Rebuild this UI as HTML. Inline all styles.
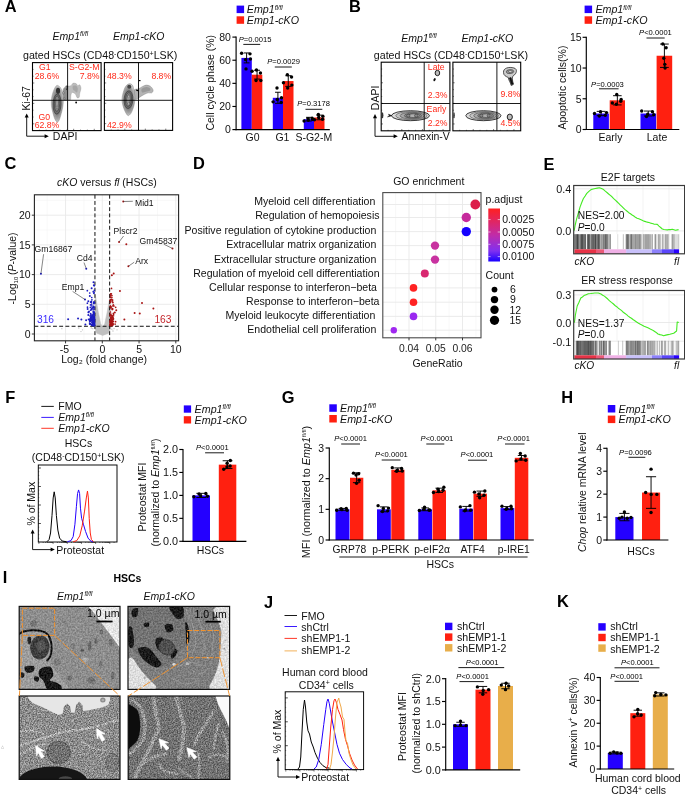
<!DOCTYPE html>
<html lang="en"><head><meta charset="utf-8"><title>Figure</title>
<style>
html,body{margin:0;padding:0;background:#fff;}
body{width:685px;height:796px;overflow:hidden;}
svg{display:block;font-family:"Liberation Sans",sans-serif;}
</style></head><body>
<svg width="685" height="796" viewBox="0 0 685 796">
<rect width="685" height="796" fill="#fff"/>
<text x="4.7" y="12" font-size="16.4" font-weight="bold" fill="#000">A</text>
<text x="348.9" y="12.1" font-size="16.4" font-weight="bold" fill="#000">B</text>
<text x="52.6" y="39.8" font-size="10.5" font-style="italic" fill="#111">Emp1<tspan dy="-3.78" font-size="6.3">fl/fl</tspan></text>
<text x="113" y="39.8" font-size="10.5" font-style="italic" fill="#111">Emp1-cKO</text>
<text x="23" y="59.3" font-size="10.65" fill="#111">gated HSCs (CD48<tspan dy="-3.6" font-size="7">-</tspan><tspan dy="3.6">CD150</tspan><tspan dy="-3.6" font-size="7">+</tspan><tspan dy="3.6">LSK)</tspan></text>
<rect x="32.5" y="62.6" width="68.6" height="68" fill="#fff" stroke="#000" stroke-width="1.1" />
<line x1="32.5" y1="69.4" x2="33.5" y2="69.4" stroke="#000" stroke-width="0.5" />
<line x1="39.36" y1="130.6" x2="39.36" y2="129.6" stroke="#000" stroke-width="0.5" />
<line x1="32.5" y1="76.2" x2="33.5" y2="76.2" stroke="#000" stroke-width="0.5" />
<line x1="46.22" y1="130.6" x2="46.22" y2="129.6" stroke="#000" stroke-width="0.5" />
<line x1="32.5" y1="83" x2="34.3" y2="83" stroke="#000" stroke-width="0.5" />
<line x1="53.08" y1="130.6" x2="53.08" y2="128.8" stroke="#000" stroke-width="0.5" />
<line x1="32.5" y1="89.8" x2="33.5" y2="89.8" stroke="#000" stroke-width="0.5" />
<line x1="59.94" y1="130.6" x2="59.94" y2="129.6" stroke="#000" stroke-width="0.5" />
<line x1="32.5" y1="96.6" x2="33.5" y2="96.6" stroke="#000" stroke-width="0.5" />
<line x1="66.8" y1="130.6" x2="66.8" y2="129.6" stroke="#000" stroke-width="0.5" />
<line x1="32.5" y1="103.4" x2="34.3" y2="103.4" stroke="#000" stroke-width="0.5" />
<line x1="73.66" y1="130.6" x2="73.66" y2="128.8" stroke="#000" stroke-width="0.5" />
<line x1="32.5" y1="110.2" x2="33.5" y2="110.2" stroke="#000" stroke-width="0.5" />
<line x1="80.52" y1="130.6" x2="80.52" y2="129.6" stroke="#000" stroke-width="0.5" />
<line x1="32.5" y1="117" x2="33.5" y2="117" stroke="#000" stroke-width="0.5" />
<line x1="87.38" y1="130.6" x2="87.38" y2="129.6" stroke="#000" stroke-width="0.5" />
<line x1="32.5" y1="123.8" x2="34.3" y2="123.8" stroke="#000" stroke-width="0.5" />
<line x1="94.24" y1="130.6" x2="94.24" y2="128.8" stroke="#000" stroke-width="0.5" />
<defs><filter id="sb" x="-20%" y="-20%" width="140%" height="140%"><feGaussianBlur stdDeviation="0.35"/></filter><filter id="sb2" x="-20%" y="-20%" width="140%" height="140%"><feGaussianBlur stdDeviation="0.6"/></filter><radialGradient id="rg1" cx="0.5" cy="0.5" r="0.5"><stop offset="0" stop-color="#4c4c4c"/><stop offset="0.55" stop-color="#7c7c7c"/><stop offset="0.85" stop-color="#a8a8a8"/><stop offset="1" stop-color="#cfcfcf"/></radialGradient></defs>
<g filter="url(#sb)">
<path d="M62.89 90.05 C63.29 87.84 64.9 87.1 65.7 86.43 C66.51 85.76 66.84 86.17 67.71 86.03 C68.58 85.9 70.05 86.1 70.92 85.63 C71.79 85.16 72.06 83.56 72.93 83.22 C73.8 82.89 75.34 83.22 76.14 83.62 C76.95 84.02 77.15 85.43 77.75 85.63 C78.35 85.83 79.22 84.36 79.76 84.83 C80.29 85.3 80.96 87.04 80.96 88.44 C80.96 89.85 80.05 91.79 79.76 93.26 C79.46 94.73 79.64 96.54 79.2 97.28 C78.76 98.01 77.75 98.21 77.11 97.68 C76.47 97.14 76.17 94.93 75.34 94.06 C74.51 93.19 72.86 92.26 72.13 92.46 C71.39 92.66 71.19 94.06 70.92 95.27 C70.66 96.47 71.06 98.88 70.52 99.69 C69.99 100.49 68.92 100.09 67.71 100.09 C66.51 100.09 64.1 101.36 63.29 99.69 C62.49 98.01 62.49 92.26 62.89 90.05Z" fill="#bdbdbd" stroke="#8a8a8a" stroke-width="0.3" />
<path d="M72.93 86.03 C73.47 85.43 75.34 85.23 76.14 85.63 C76.95 86.03 77.62 87.3 77.75 88.44 C77.88 89.58 77.48 92.06 76.95 92.46 C76.41 92.86 75.21 91.39 74.54 90.85 C73.87 90.32 73.2 90.05 72.93 89.24 C72.66 88.44 72.4 86.63 72.93 86.03Z" fill="#a6a6a6" stroke="none" stroke-width="0" />
<path d="M63.29 90.05 C63.56 88.04 65.03 87.5 65.7 87.24 C66.37 86.97 67.04 86.5 67.31 88.44 C67.58 90.38 67.84 97.08 67.31 98.88 C66.77 100.69 64.77 100.76 64.1 99.29 C63.43 97.81 63.03 92.06 63.29 90.05Z" fill="#8e8e8e" stroke="none" stroke-width="0" />
<path d="M57.27 85.39 C58.14 85.46 59.64 86.46 60.48 87.64 C61.33 88.82 61.86 90.58 62.33 92.46 C62.8 94.33 63.2 96.61 63.29 98.88 C63.39 101.16 63.23 103.7 62.89 106.11 C62.56 108.52 61.89 111.07 61.29 113.34 C60.68 115.62 59.95 118.32 59.28 119.77 C58.61 121.21 58.01 122.15 57.27 122.02 C56.53 121.88 55.6 120.54 54.86 118.96 C54.12 117.38 53.43 114.81 52.85 112.54 C52.28 110.26 51.61 107.72 51.41 105.31 C51.2 102.9 51.34 100.36 51.65 98.08 C51.95 95.8 52.65 93.46 53.25 91.65 C53.86 89.85 54.59 88.28 55.26 87.24 C55.93 86.19 56.4 85.32 57.27 85.39Z" fill="url(#rg1)" stroke="#555" stroke-width="0.35" />
</g>
<ellipse cx="58.07" cy="90.85" rx="2.09" ry="3.05" fill="#333"/>
<ellipse cx="57.03" cy="104.1" rx="4.02" ry="10.04" fill="#6c6c6c" stroke="#1c1c1c" stroke-width="0.45" transform="rotate(2 57.03 104.1)"/>
<ellipse cx="57.03" cy="103.7" rx="2.65" ry="7.63" fill="#858585" stroke="#1c1c1c" stroke-width="0.4" transform="rotate(2 57.03 103.7)"/>
<ellipse cx="57.03" cy="103.3" rx="1.45" ry="4.82" fill="#a0a0a0" stroke="#222" stroke-width="0.4" transform="rotate(2 57.03 103.3)"/>
<ellipse cx="57.03" cy="98.08" rx="0.72" ry="1.45" fill="#c0c0c0" stroke="#333" stroke-width="0.3"/>
<ellipse cx="57.03" cy="107.32" rx="0.72" ry="1.61" fill="#c0c0c0" stroke="#333" stroke-width="0.3"/>
<path d="M65.7 86.27 L67.71 86.03 L66.51 90.05" fill="none" stroke="#111" stroke-width="0.7" />
<circle cx="76.14" cy="102.5" r="0.9" fill="#000" />
<ellipse cx="63.53" cy="92.86" rx="0.64" ry="1.12" fill="#eee" stroke="#222" stroke-width="0.4"/>
<ellipse cx="64.1" cy="98.48" rx="0.64" ry="1.12" fill="#ddd" stroke="#222" stroke-width="0.4"/>
<text x="39.1" y="70.3" font-size="8.7" fill="#ff2a1a">G1</text>
<text x="34.7" y="78.5" font-size="8.7" fill="#ff2a1a">28.6%</text>
<text x="69" y="70.3" font-size="8.7" fill="#ff2a1a">S-G2-M</text>
<text x="99.6" y="78.5" font-size="8.7" text-anchor="end" fill="#ff2a1a">7.8%</text>
<text x="38.4" y="120" font-size="8.7" fill="#ff2a1a">G0</text>
<text x="34.7" y="128.2" font-size="8.7" fill="#ff2a1a">62.8%</text>
<rect x="104.4" y="62.6" width="68.2" height="67.8" fill="#fff" stroke="#000" stroke-width="1.1" />
<line x1="104.4" y1="69.38" x2="105.4" y2="69.38" stroke="#000" stroke-width="0.5" />
<line x1="111.22" y1="130.4" x2="111.22" y2="129.4" stroke="#000" stroke-width="0.5" />
<line x1="104.4" y1="76.16" x2="105.4" y2="76.16" stroke="#000" stroke-width="0.5" />
<line x1="118.04" y1="130.4" x2="118.04" y2="129.4" stroke="#000" stroke-width="0.5" />
<line x1="104.4" y1="82.94" x2="106.2" y2="82.94" stroke="#000" stroke-width="0.5" />
<line x1="124.86" y1="130.4" x2="124.86" y2="128.6" stroke="#000" stroke-width="0.5" />
<line x1="104.4" y1="89.72" x2="105.4" y2="89.72" stroke="#000" stroke-width="0.5" />
<line x1="131.68" y1="130.4" x2="131.68" y2="129.4" stroke="#000" stroke-width="0.5" />
<line x1="104.4" y1="96.5" x2="105.4" y2="96.5" stroke="#000" stroke-width="0.5" />
<line x1="138.5" y1="130.4" x2="138.5" y2="129.4" stroke="#000" stroke-width="0.5" />
<line x1="104.4" y1="103.28" x2="106.2" y2="103.28" stroke="#000" stroke-width="0.5" />
<line x1="145.32" y1="130.4" x2="145.32" y2="128.6" stroke="#000" stroke-width="0.5" />
<line x1="104.4" y1="110.06" x2="105.4" y2="110.06" stroke="#000" stroke-width="0.5" />
<line x1="152.14" y1="130.4" x2="152.14" y2="129.4" stroke="#000" stroke-width="0.5" />
<line x1="104.4" y1="116.84" x2="105.4" y2="116.84" stroke="#000" stroke-width="0.5" />
<line x1="158.96" y1="130.4" x2="158.96" y2="129.4" stroke="#000" stroke-width="0.5" />
<line x1="104.4" y1="123.62" x2="106.2" y2="123.62" stroke="#000" stroke-width="0.5" />
<line x1="165.78" y1="130.4" x2="165.78" y2="128.6" stroke="#000" stroke-width="0.5" />
<g filter="url(#sb)">
<path d="M134.09 90.05 C134.89 88.64 137.1 89.45 138.51 88.84 C139.91 88.24 141.18 87.06 142.52 86.43 C143.86 85.8 145.2 85.07 146.54 85.07 C147.88 85.07 149.46 85.6 150.55 86.43 C151.65 87.26 152.92 88.98 153.12 90.05 C153.33 91.12 152.59 92.39 151.76 92.86 C150.93 93.33 149.42 92.59 148.14 92.86 C146.87 93.13 145.47 93.8 144.13 94.47 C142.79 95.14 141.45 96.07 140.11 96.88 C138.77 97.68 137.17 99.22 136.1 99.29 C135.03 99.35 134.02 98.82 133.69 97.28 C133.35 95.74 133.29 91.45 134.09 90.05Z" fill="#b4b4b4" stroke="#777" stroke-width="0.35" />
<path d="M141.72 88.84 C142.46 87.93 145.13 87.06 146.54 87 C147.94 86.93 149.62 87.8 150.15 88.44 C150.69 89.08 150.49 90.32 149.75 90.85 C149.01 91.39 147.01 91.39 145.73 91.65 C144.46 91.92 142.79 92.93 142.12 92.46 C141.45 91.99 140.98 89.75 141.72 88.84Z" fill="#999" stroke="none" stroke-width="0" />
<path d="M129.27 83.78 C130.41 83.58 131.72 84.18 132.48 85.23 C133.24 86.27 133.45 88.17 133.85 90.05 C134.25 91.92 134.78 94.33 134.89 96.47 C135 98.62 134.8 100.89 134.49 102.9 C134.18 104.91 133.65 106.78 133.04 108.52 C132.44 110.26 131.71 112.16 130.88 113.34 C130.05 114.52 129 115.86 128.06 115.59 C127.13 115.32 126.12 113.45 125.25 111.73 C124.38 110.02 123.38 107.45 122.84 105.31 C122.31 103.17 121.97 101.03 122.04 98.88 C122.11 96.74 122.64 94.53 123.24 92.46 C123.85 90.38 124.65 87.88 125.65 86.43 C126.66 84.99 128.13 83.98 129.27 83.78Z" fill="url(#rg1)" stroke="#555" stroke-width="0.35" />
</g>
<ellipse cx="129.27" cy="86.84" rx="2.01" ry="2.01" fill="#444"/>
<ellipse cx="128.47" cy="99.69" rx="4.42" ry="8.84" fill="#6c6c6c" stroke="#1c1c1c" stroke-width="0.45" transform="rotate(4 128.47 99.69)"/>
<ellipse cx="128.47" cy="99.53" rx="3.05" ry="6.83" fill="#858585" stroke="#1c1c1c" stroke-width="0.4" transform="rotate(4 128.47 99.53)"/>
<ellipse cx="128.47" cy="99.29" rx="1.77" ry="4.66" fill="#a0a0a0" stroke="#222" stroke-width="0.4" transform="rotate(4 128.47 99.29)"/>
<ellipse cx="128.71" cy="96.63" rx="0.8" ry="1.29" fill="#c0c0c0" stroke="#333" stroke-width="0.3"/>
<ellipse cx="128.47" cy="103.7" rx="0.8" ry="1.45" fill="#c0c0c0" stroke="#333" stroke-width="0.3"/>
<path d="M138.91 80.57 l1.6 0" fill="none" stroke="#000" stroke-width="1.2" />
<path d="M136.1 90.05 L138.67 90.85" fill="none" stroke="#000" stroke-width="1.1" />
<text x="107" y="78.5" font-size="8.7" fill="#ff2a1a">48.3%</text>
<text x="171.2" y="78.5" font-size="8.7" text-anchor="end" fill="#ff2a1a">8.8%</text>
<text x="107" y="128.2" font-size="8.7" fill="#ff2a1a">42.9%</text>
<line x1="67.6" y1="62.6" x2="67.6" y2="130.6" stroke="#000" stroke-width="0.9" />
<line x1="32.5" y1="100.3" x2="101.1" y2="100.3" stroke="#000" stroke-width="0.9" />
<line x1="138.5" y1="62.6" x2="138.5" y2="130.4" stroke="#000" stroke-width="0.9" />
<line x1="104.4" y1="100.3" x2="172.6" y2="100.3" stroke="#000" stroke-width="0.9" />
<text x="29.6" y="110.6" font-size="10.5" fill="#111" transform="rotate(-90 29.6 110.6)">Ki-67</text>
<path d="M26.7 115.4 L26.7 136.2 L46.8 136.2" fill="none" stroke="#000" stroke-width="0.9" />
<path d="M26.7 113.4 l-2 4.2 l4 0 z" fill="#000" stroke="none" stroke-width="0" />
<path d="M48.8 136.2 l-4.2 -2 l0 4 z" fill="#000" stroke="none" stroke-width="0" />
<text x="52.8" y="140.4" font-size="10.5" fill="#111">DAPI</text>
<rect x="236.6" y="5.6" width="7.5" height="7.5" fill="#2400ff" />
<text x="246.8" y="13.4" font-size="10.7" font-style="italic" fill="#111">Emp1<tspan dy="-3.78" font-size="6.3">fl/fl</tspan></text>
<rect x="236.6" y="16.3" width="7.5" height="7.5" fill="#ff2010" />
<text x="246.8" y="24.1" font-size="10.7" font-style="italic" fill="#111">Emp1-cKO</text>
<text x="213.6" y="130.6" font-size="10.5" fill="#111" transform="rotate(-90 213.6 130.6)">Cell cycle phase (%)</text>
<rect x="241.4" y="57.91" width="10.4" height="71.69" fill="#2400ff" />
<rect x="251.8" y="74.68" width="10.5" height="54.92" fill="#ff2010" />
<rect x="272.8" y="97.8" width="10.2" height="31.8" fill="#2400ff" />
<rect x="283" y="81.04" width="10.5" height="48.56" fill="#ff2010" />
<rect x="303.8" y="119.19" width="10.2" height="10.41" fill="#2400ff" />
<rect x="314" y="117.46" width="10.5" height="12.14" fill="#ff2010" />
<line x1="246.6" y1="52.94" x2="246.6" y2="62.88" stroke="#000" stroke-width="0.95" />
<line x1="243.69" y1="52.94" x2="249.51" y2="52.94" stroke="#000" stroke-width="0.95" />
<line x1="243.69" y1="62.88" x2="249.51" y2="62.88" stroke="#000" stroke-width="0.95" />
<circle cx="241.6" cy="53.29" r="1.7" fill="#000" />
<circle cx="245.6" cy="59.65" r="1.7" fill="#000" />
<circle cx="246" cy="68.9" r="1.7" fill="#000" />
<circle cx="250" cy="53.87" r="1.7" fill="#000" />
<circle cx="250.4" cy="59.07" r="1.7" fill="#000" />
<line x1="257.05" y1="70.28" x2="257.05" y2="79.07" stroke="#000" stroke-width="0.95" />
<line x1="254.11" y1="70.28" x2="259.99" y2="70.28" stroke="#000" stroke-width="0.95" />
<line x1="254.11" y1="79.07" x2="259.99" y2="79.07" stroke="#000" stroke-width="0.95" />
<circle cx="252.05" cy="71.21" r="1.7" fill="#000" />
<circle cx="256.05" cy="80.46" r="1.7" fill="#000" />
<circle cx="256.45" cy="70.05" r="1.7" fill="#000" />
<circle cx="260.45" cy="72.94" r="1.7" fill="#000" />
<circle cx="260.85" cy="80.46" r="1.7" fill="#000" />
<line x1="277.9" y1="92.25" x2="277.9" y2="103.35" stroke="#000" stroke-width="0.95" />
<line x1="275.04" y1="92.25" x2="280.76" y2="92.25" stroke="#000" stroke-width="0.95" />
<line x1="275.04" y1="103.35" x2="280.76" y2="103.35" stroke="#000" stroke-width="0.95" />
<circle cx="273.1" cy="101.85" r="1.7" fill="#000" />
<circle cx="277" cy="87.97" r="1.7" fill="#000" />
<circle cx="277.3" cy="99.54" r="1.7" fill="#000" />
<circle cx="281.2" cy="102.43" r="1.7" fill="#000" />
<circle cx="281.5" cy="97.8" r="1.7" fill="#000" />
<line x1="288.25" y1="75.72" x2="288.25" y2="86.36" stroke="#000" stroke-width="0.95" />
<line x1="285.31" y1="75.72" x2="291.19" y2="75.72" stroke="#000" stroke-width="0.95" />
<line x1="285.31" y1="86.36" x2="291.19" y2="86.36" stroke="#000" stroke-width="0.95" />
<circle cx="283.45" cy="82.77" r="1.7" fill="#000" />
<circle cx="287.35" cy="74.68" r="1.7" fill="#000" />
<circle cx="287.65" cy="87.97" r="1.7" fill="#000" />
<circle cx="291.55" cy="76.99" r="1.7" fill="#000" />
<circle cx="291.85" cy="85.08" r="1.7" fill="#000" />
<line x1="308.9" y1="117.34" x2="308.9" y2="121.04" stroke="#000" stroke-width="0.95" />
<line x1="306.04" y1="117.34" x2="311.76" y2="117.34" stroke="#000" stroke-width="0.95" />
<line x1="306.04" y1="121.04" x2="311.76" y2="121.04" stroke="#000" stroke-width="0.95" />
<circle cx="304.1" cy="120.93" r="1.7" fill="#000" />
<circle cx="308" cy="118.62" r="1.7" fill="#000" />
<circle cx="308.3" cy="120.35" r="1.7" fill="#000" />
<circle cx="312.2" cy="118.27" r="1.7" fill="#000" />
<circle cx="312.5" cy="119.42" r="1.7" fill="#000" />
<line x1="319.25" y1="115.15" x2="319.25" y2="119.77" stroke="#000" stroke-width="0.95" />
<line x1="316.31" y1="115.15" x2="322.19" y2="115.15" stroke="#000" stroke-width="0.95" />
<line x1="316.31" y1="119.77" x2="322.19" y2="119.77" stroke="#000" stroke-width="0.95" />
<circle cx="314.45" cy="119.77" r="1.7" fill="#000" />
<circle cx="318.35" cy="114.57" r="1.7" fill="#000" />
<circle cx="318.65" cy="117.46" r="1.7" fill="#000" />
<circle cx="322.55" cy="119.19" r="1.7" fill="#000" />
<circle cx="322.85" cy="116.3" r="1.7" fill="#000" />
<line x1="236.1" y1="36.52" x2="236.1" y2="130.17" stroke="#000" stroke-width="1.15" />
<line x1="235.53" y1="129.6" x2="329.8" y2="129.6" stroke="#000" stroke-width="1.15" />
<line x1="232.4" y1="129.6" x2="236.1" y2="129.6" stroke="#000" stroke-width="1.15" />
<text x="230.9" y="133.38" font-size="10.5" text-anchor="end" fill="#111">0</text>
<line x1="232.4" y1="106.47" x2="236.1" y2="106.47" stroke="#000" stroke-width="1.15" />
<text x="230.9" y="110.25" font-size="10.5" text-anchor="end" fill="#111">20</text>
<line x1="232.4" y1="83.35" x2="236.1" y2="83.35" stroke="#000" stroke-width="1.15" />
<text x="230.9" y="87.13" font-size="10.5" text-anchor="end" fill="#111">40</text>
<line x1="232.4" y1="60.22" x2="236.1" y2="60.22" stroke="#000" stroke-width="1.15" />
<text x="230.9" y="64" font-size="10.5" text-anchor="end" fill="#111">60</text>
<line x1="232.4" y1="37.1" x2="236.1" y2="37.1" stroke="#000" stroke-width="1.15" />
<text x="230.9" y="40.88" font-size="10.5" text-anchor="end" fill="#111">80</text>
<text x="252.6" y="140.6" font-size="10.5" text-anchor="middle" fill="#111">G0</text>
<text x="282.4" y="140.6" font-size="10.5" text-anchor="middle" fill="#111">G1</text>
<text x="313.8" y="140.6" font-size="10.5" text-anchor="middle" fill="#111">S-G2-M</text>
<text x="238.7" y="42" font-size="7.6" fill="#000"><tspan font-style="italic">P</tspan>=0.0015</text>
<line x1="243.3" y1="44.4" x2="260.2" y2="44.4" stroke="#000" stroke-width="0.9" />
<text x="267.2" y="63.8" font-size="7.6" fill="#000"><tspan font-style="italic">P</tspan>=0.0029</text>
<line x1="274.8" y1="67" x2="291.8" y2="67" stroke="#000" stroke-width="0.9" />
<text x="297.2" y="106.2" font-size="7.6" fill="#000"><tspan font-style="italic">P</tspan>=0.3178</text>
<line x1="305.5" y1="109.3" x2="322.3" y2="109.3" stroke="#000" stroke-width="0.9" />
<text x="401.2" y="41.9" font-size="10.5" font-style="italic" fill="#111">Emp1<tspan dy="-3.78" font-size="6.3">fl/fl</tspan></text>
<text x="461.5" y="41.9" font-size="10.6" font-style="italic" fill="#111">Emp1-cKO</text>
<text x="373.8" y="59.2" font-size="10.65" fill="#111">gated HSCs (CD48<tspan dy="-3.6" font-size="7">-</tspan><tspan dy="3.6">CD150</tspan><tspan dy="-3.6" font-size="7">+</tspan><tspan dy="3.6">LSK)</tspan></text>
<rect x="381.2" y="62.2" width="68.7" height="68.6" fill="#fff" stroke="#000" stroke-width="1.1" />
<line x1="381.2" y1="69.06" x2="382.2" y2="69.06" stroke="#000" stroke-width="0.5" />
<line x1="388.07" y1="130.8" x2="388.07" y2="129.8" stroke="#000" stroke-width="0.5" />
<line x1="381.2" y1="75.92" x2="382.2" y2="75.92" stroke="#000" stroke-width="0.5" />
<line x1="394.94" y1="130.8" x2="394.94" y2="129.8" stroke="#000" stroke-width="0.5" />
<line x1="381.2" y1="82.78" x2="383" y2="82.78" stroke="#000" stroke-width="0.5" />
<line x1="401.81" y1="130.8" x2="401.81" y2="129" stroke="#000" stroke-width="0.5" />
<line x1="381.2" y1="89.64" x2="382.2" y2="89.64" stroke="#000" stroke-width="0.5" />
<line x1="408.68" y1="130.8" x2="408.68" y2="129.8" stroke="#000" stroke-width="0.5" />
<line x1="381.2" y1="96.5" x2="382.2" y2="96.5" stroke="#000" stroke-width="0.5" />
<line x1="415.55" y1="130.8" x2="415.55" y2="129.8" stroke="#000" stroke-width="0.5" />
<line x1="381.2" y1="103.36" x2="383" y2="103.36" stroke="#000" stroke-width="0.5" />
<line x1="422.42" y1="130.8" x2="422.42" y2="129" stroke="#000" stroke-width="0.5" />
<line x1="381.2" y1="110.22" x2="382.2" y2="110.22" stroke="#000" stroke-width="0.5" />
<line x1="429.29" y1="130.8" x2="429.29" y2="129.8" stroke="#000" stroke-width="0.5" />
<line x1="381.2" y1="117.08" x2="382.2" y2="117.08" stroke="#000" stroke-width="0.5" />
<line x1="436.16" y1="130.8" x2="436.16" y2="129.8" stroke="#000" stroke-width="0.5" />
<line x1="381.2" y1="123.94" x2="383" y2="123.94" stroke="#000" stroke-width="0.5" />
<line x1="443.03" y1="130.8" x2="443.03" y2="129" stroke="#000" stroke-width="0.5" />
<rect x="452.9" y="62.2" width="67.8" height="68.6" fill="#fff" stroke="#000" stroke-width="1.1" />
<line x1="452.9" y1="69.06" x2="453.9" y2="69.06" stroke="#000" stroke-width="0.5" />
<line x1="459.68" y1="130.8" x2="459.68" y2="129.8" stroke="#000" stroke-width="0.5" />
<line x1="452.9" y1="75.92" x2="453.9" y2="75.92" stroke="#000" stroke-width="0.5" />
<line x1="466.46" y1="130.8" x2="466.46" y2="129.8" stroke="#000" stroke-width="0.5" />
<line x1="452.9" y1="82.78" x2="454.7" y2="82.78" stroke="#000" stroke-width="0.5" />
<line x1="473.24" y1="130.8" x2="473.24" y2="129" stroke="#000" stroke-width="0.5" />
<line x1="452.9" y1="89.64" x2="453.9" y2="89.64" stroke="#000" stroke-width="0.5" />
<line x1="480.02" y1="130.8" x2="480.02" y2="129.8" stroke="#000" stroke-width="0.5" />
<line x1="452.9" y1="96.5" x2="453.9" y2="96.5" stroke="#000" stroke-width="0.5" />
<line x1="486.8" y1="130.8" x2="486.8" y2="129.8" stroke="#000" stroke-width="0.5" />
<line x1="452.9" y1="103.36" x2="454.7" y2="103.36" stroke="#000" stroke-width="0.5" />
<line x1="493.58" y1="130.8" x2="493.58" y2="129" stroke="#000" stroke-width="0.5" />
<line x1="452.9" y1="110.22" x2="453.9" y2="110.22" stroke="#000" stroke-width="0.5" />
<line x1="500.36" y1="130.8" x2="500.36" y2="129.8" stroke="#000" stroke-width="0.5" />
<line x1="452.9" y1="117.08" x2="453.9" y2="117.08" stroke="#000" stroke-width="0.5" />
<line x1="507.14" y1="130.8" x2="507.14" y2="129.8" stroke="#000" stroke-width="0.5" />
<line x1="452.9" y1="123.94" x2="454.7" y2="123.94" stroke="#000" stroke-width="0.5" />
<line x1="513.92" y1="130.8" x2="513.92" y2="129" stroke="#000" stroke-width="0.5" />
<ellipse cx="410.5" cy="115.7" rx="19" ry="5" fill="rgb(218,218,218)" stroke="#111" stroke-width="0.8"/>
<ellipse cx="411.36" cy="115.7" rx="15.58" ry="4.19" fill="rgb(196,196,196)" stroke="#111" stroke-width="0.4"/>
<ellipse cx="412.21" cy="115.7" rx="12.16" ry="3.38" fill="rgb(168,168,168)" stroke="#111" stroke-width="0.4"/>
<ellipse cx="413.06" cy="115.7" rx="8.74" ry="2.57" fill="rgb(140,140,140)" stroke="#111" stroke-width="0.4"/>
<ellipse cx="413.82" cy="115.7" rx="5.7" ry="1.85" fill="rgb(175,175,175)" stroke="#111" stroke-width="0.4"/>
<ellipse cx="408.22" cy="115.7" rx="1.71" ry="1.5" fill="#888" stroke="#111" stroke-width="0.4"/>
<ellipse cx="416.2" cy="115.7" rx="1.71" ry="1.5" fill="#888" stroke="#111" stroke-width="0.4"/>
<path d="M392 115.7 l-3.5 -1.5 l0.8 1.5 l-1.8 1.2 z" fill="#111" stroke="#111" stroke-width="0.5" />
<ellipse cx="382.4" cy="115.3" rx="1" ry="3" fill="#333"/>
<ellipse cx="437.4" cy="73" rx="2.3" ry="2.7" fill="#bbb" stroke="#111" stroke-width="0.9"/>
<ellipse cx="434.6" cy="79.7" rx="1" ry="1.7" fill="#111" transform="rotate(25 434.6 79.7)"/>
<ellipse cx="483.4" cy="115.7" rx="17.6" ry="5" fill="rgb(218,218,218)" stroke="#111" stroke-width="0.8"/>
<ellipse cx="484.19" cy="115.7" rx="14.43" ry="4.19" fill="rgb(196,196,196)" stroke="#111" stroke-width="0.4"/>
<ellipse cx="484.98" cy="115.7" rx="11.26" ry="3.38" fill="rgb(168,168,168)" stroke="#111" stroke-width="0.4"/>
<ellipse cx="485.78" cy="115.7" rx="8.1" ry="2.57" fill="rgb(140,140,140)" stroke="#111" stroke-width="0.4"/>
<ellipse cx="486.48" cy="115.7" rx="5.28" ry="1.85" fill="rgb(175,175,175)" stroke="#111" stroke-width="0.4"/>
<ellipse cx="481.29" cy="115.7" rx="1.58" ry="1.5" fill="#888" stroke="#111" stroke-width="0.4"/>
<ellipse cx="488.68" cy="115.7" rx="1.58" ry="1.5" fill="#888" stroke="#111" stroke-width="0.4"/>
<ellipse cx="454" cy="115.3" rx="0.9" ry="3" fill="#444"/>
<ellipse cx="509.8" cy="117" rx="2.6" ry="2.9" fill="#bbb" stroke="#111" stroke-width="0.9"/>
<path d="M503.5 72.5 C503 68 509 66.5 514 68 C518 69 516.5 74 513.5 75.5 C511.5 77 512.5 80 513.3 84.5 L511.2 85.5 C510.5 82 508.5 80.5 508.3 77.5 C506 76.5 503.5 75.5 503.5 72.5z" fill="#ccc" stroke="#111" stroke-width="0.7" />
<ellipse cx="510" cy="71.6" rx="3.8" ry="2" fill="#999" stroke="#111" stroke-width="0.45" transform="rotate(-5 510 71.6)"/>
<ellipse cx="510.2" cy="71.6" rx="1.8" ry="1" fill="#ddd" stroke="#111" stroke-width="0.4" transform="rotate(-5 510.2 71.6)"/>
<path d="M509.3 78 L511.4 84.6 L513.2 84 L511 77.5z" fill="#111" stroke="#111" stroke-width="0.6" />
<line x1="424.2" y1="62.2" x2="424.2" y2="130.8" stroke="#000" stroke-width="0.9" />
<line x1="381.2" y1="103.5" x2="449.9" y2="103.5" stroke="#000" stroke-width="0.9" />
<line x1="496.9" y1="62.2" x2="496.9" y2="130.8" stroke="#000" stroke-width="0.9" />
<line x1="452.9" y1="103.5" x2="520.7" y2="103.5" stroke="#000" stroke-width="0.9" />
<text x="427.8" y="69.6" font-size="8.7" fill="#ff2a1a">Late</text>
<text x="427.8" y="97.6" font-size="8.7" fill="#ff2a1a">2.3%</text>
<text x="426.6" y="111.9" font-size="8.7" fill="#ff2a1a">Early</text>
<text x="427.8" y="126.4" font-size="8.7" fill="#ff2a1a">2.2%</text>
<text x="500.4" y="96.8" font-size="8.7" fill="#ff2a1a">9.8%</text>
<text x="500.4" y="126.4" font-size="8.7" fill="#ff2a1a">4.5%</text>
<text x="378.8" y="110.2" font-size="10.5" fill="#111" transform="rotate(-90 378.8 110.2)">DAPI</text>
<path d="M375 116 L375 136.3 L395.8 136.3" fill="none" stroke="#000" stroke-width="0.9" />
<path d="M375 114 l-2 4.2 l4 0 z" fill="#000" stroke="none" stroke-width="0" />
<path d="M397.8 136.3 l-4.2 -2 l0 4 z" fill="#000" stroke="none" stroke-width="0" />
<text x="401.4" y="140.2" font-size="10.5" fill="#111">Annexin-V</text>
<rect x="584.6" y="5.6" width="7.5" height="7.5" fill="#2400ff" />
<text x="595.4" y="13.4" font-size="10.7" font-style="italic" fill="#111">Emp1<tspan dy="-3.78" font-size="6.3">fl/fl</tspan></text>
<rect x="584.6" y="16.3" width="7.5" height="7.5" fill="#ff2010" />
<text x="595.4" y="24.1" font-size="10.7" font-style="italic" fill="#111">Emp1-cKO</text>
<text x="566.3" y="129.6" font-size="10.5" fill="#111" transform="rotate(-90 566.3 129.6)">Apoptotic cells(%)</text>
<rect x="593.3" y="113.52" width="15.6" height="15.98" fill="#2400ff" />
<rect x="609.7" y="100.3" width="15.3" height="29.2" fill="#ff2010" />
<rect x="640.5" y="113.52" width="15.6" height="15.98" fill="#2400ff" />
<rect x="656.6" y="55.74" width="15.6" height="73.76" fill="#ff2010" />
<line x1="601.1" y1="111.37" x2="601.1" y2="115.67" stroke="#000" stroke-width="0.95" />
<line x1="596.73" y1="111.37" x2="605.47" y2="111.37" stroke="#000" stroke-width="0.95" />
<line x1="596.73" y1="115.67" x2="605.47" y2="115.67" stroke="#000" stroke-width="0.95" />
<circle cx="594.5" cy="113.52" r="1.7" fill="#000" />
<circle cx="599.3" cy="115.98" r="1.7" fill="#000" />
<circle cx="600.5" cy="111.67" r="1.7" fill="#000" />
<circle cx="605.3" cy="115.36" r="1.7" fill="#000" />
<circle cx="606.5" cy="112.6" r="1.7" fill="#000" />
<line x1="617.35" y1="95.69" x2="617.35" y2="104.91" stroke="#000" stroke-width="0.95" />
<line x1="613.07" y1="95.69" x2="621.63" y2="95.69" stroke="#000" stroke-width="0.95" />
<line x1="613.07" y1="104.91" x2="621.63" y2="104.91" stroke="#000" stroke-width="0.95" />
<circle cx="612.35" cy="103.07" r="1.7" fill="#000" />
<circle cx="616.35" cy="104.3" r="1.7" fill="#000" />
<circle cx="616.75" cy="94.46" r="1.7" fill="#000" />
<circle cx="620.75" cy="101.23" r="1.7" fill="#000" />
<circle cx="621.15" cy="99.38" r="1.7" fill="#000" />
<line x1="648.3" y1="111.06" x2="648.3" y2="115.98" stroke="#000" stroke-width="0.95" />
<line x1="643.93" y1="111.06" x2="652.67" y2="111.06" stroke="#000" stroke-width="0.95" />
<line x1="643.93" y1="115.98" x2="652.67" y2="115.98" stroke="#000" stroke-width="0.95" />
<circle cx="641.7" cy="111.06" r="1.7" fill="#000" />
<circle cx="646.5" cy="116.59" r="1.7" fill="#000" />
<circle cx="647.7" cy="114.13" r="1.7" fill="#000" />
<circle cx="652.5" cy="111.67" r="1.7" fill="#000" />
<circle cx="653.7" cy="114.75" r="1.7" fill="#000" />
<line x1="664.4" y1="44.06" x2="664.4" y2="67.42" stroke="#000" stroke-width="0.95" />
<line x1="660.03" y1="44.06" x2="668.77" y2="44.06" stroke="#000" stroke-width="0.95" />
<line x1="660.03" y1="67.42" x2="668.77" y2="67.42" stroke="#000" stroke-width="0.95" />
<circle cx="662.8" cy="44.06" r="1.7" fill="#000" />
<circle cx="665.1" cy="68.03" r="1.7" fill="#000" />
<circle cx="663.8" cy="58.2" r="1.7" fill="#000" />
<circle cx="666.1" cy="47.75" r="1.7" fill="#000" />
<circle cx="664.8" cy="64.35" r="1.7" fill="#000" />
<line x1="586.3" y1="36.72" x2="586.3" y2="130.07" stroke="#000" stroke-width="1.15" />
<line x1="585.72" y1="129.5" x2="679.3" y2="129.5" stroke="#000" stroke-width="1.15" />
<line x1="582.6" y1="129.5" x2="586.3" y2="129.5" stroke="#000" stroke-width="1.15" />
<text x="581.6" y="133.28" font-size="10.5" text-anchor="end" fill="#111">0</text>
<line x1="582.6" y1="98.77" x2="586.3" y2="98.77" stroke="#000" stroke-width="1.15" />
<text x="581.6" y="102.55" font-size="10.5" text-anchor="end" fill="#111">5</text>
<line x1="582.6" y1="68.03" x2="586.3" y2="68.03" stroke="#000" stroke-width="1.15" />
<text x="581.6" y="71.81" font-size="10.5" text-anchor="end" fill="#111">10</text>
<line x1="582.6" y1="37.3" x2="586.3" y2="37.3" stroke="#000" stroke-width="1.15" />
<text x="581.6" y="41.08" font-size="10.5" text-anchor="end" fill="#111">15</text>
<text x="610.5" y="140.5" font-size="10.5" text-anchor="middle" fill="#111">Early</text>
<text x="657" y="140.5" font-size="10.5" text-anchor="middle" fill="#111">Late</text>
<text x="591.1" y="86.7" font-size="7.6" fill="#000"><tspan font-style="italic">P</tspan>=0.0003</text>
<line x1="599" y1="88.8" x2="618.6" y2="88.8" stroke="#000" stroke-width="0.9" />
<text x="639.1" y="35.4" font-size="7.6" fill="#000"><tspan font-style="italic">P</tspan>&lt;0.0001</text>
<line x1="646.5" y1="38" x2="664.7" y2="38" stroke="#000" stroke-width="0.9" />
<text x="4.5" y="169.4" font-size="16.4" font-weight="bold" fill="#000">C</text>
<text x="192.9" y="169.4" font-size="16.4" font-weight="bold" fill="#000">D</text>
<text x="543.5" y="169.8" font-size="16.4" font-weight="bold" fill="#000">E</text>
<rect x="34.4" y="194.8" width="144.2" height="146" fill="#fff" />
<line x1="47.17" y1="194.8" x2="47.17" y2="340.8" stroke="#f1f1f1" stroke-width="0.5" />
<line x1="83.92" y1="194.8" x2="83.92" y2="340.8" stroke="#f1f1f1" stroke-width="0.5" />
<line x1="120.67" y1="194.8" x2="120.67" y2="340.8" stroke="#f1f1f1" stroke-width="0.5" />
<line x1="157.43" y1="194.8" x2="157.43" y2="340.8" stroke="#f1f1f1" stroke-width="0.5" />
<line x1="34.4" y1="319.15" x2="178.6" y2="319.15" stroke="#f1f1f1" stroke-width="0.5" />
<line x1="34.4" y1="289.45" x2="178.6" y2="289.45" stroke="#f1f1f1" stroke-width="0.5" />
<line x1="34.4" y1="259.75" x2="178.6" y2="259.75" stroke="#f1f1f1" stroke-width="0.5" />
<line x1="34.4" y1="230.05" x2="178.6" y2="230.05" stroke="#f1f1f1" stroke-width="0.5" />
<line x1="34.4" y1="200.35" x2="178.6" y2="200.35" stroke="#f1f1f1" stroke-width="0.5" />
<line x1="65.55" y1="194.8" x2="65.55" y2="340.8" stroke="#e9e9e9" stroke-width="0.9" />
<line x1="102.3" y1="194.8" x2="102.3" y2="340.8" stroke="#e9e9e9" stroke-width="0.9" />
<line x1="139.05" y1="194.8" x2="139.05" y2="340.8" stroke="#e9e9e9" stroke-width="0.9" />
<line x1="175.8" y1="194.8" x2="175.8" y2="340.8" stroke="#e9e9e9" stroke-width="0.9" />
<line x1="34.4" y1="334" x2="178.6" y2="334" stroke="#e9e9e9" stroke-width="0.9" />
<line x1="34.4" y1="304.3" x2="178.6" y2="304.3" stroke="#e9e9e9" stroke-width="0.9" />
<line x1="34.4" y1="274.6" x2="178.6" y2="274.6" stroke="#e9e9e9" stroke-width="0.9" />
<line x1="34.4" y1="244.9" x2="178.6" y2="244.9" stroke="#e9e9e9" stroke-width="0.9" />
<line x1="34.4" y1="215.2" x2="178.6" y2="215.2" stroke="#e9e9e9" stroke-width="0.9" />
<path d="M95.24 295.04 L94.83 310.87 L94.32 327.22 L96.77 333.15 L102.7 335.4 L108.63 333.15 L111.08 327.22 L110.47 310.87 L109.96 296.77 L109.24 300.66 L106.99 312.92 L104.74 323.65 L102.7 327.02 L100.66 323.65 L98.41 312.92 L96.16 299.63Z" fill="#bfbfbf" stroke="#bfbfbf" stroke-width="0.5" stroke-linejoin="round"/>
<circle cx="61.88" cy="328.65" r="0.7" fill="#c4c4c4" />
<circle cx="80.98" cy="331.62" r="0.7" fill="#c4c4c4" />
<circle cx="82.45" cy="329.84" r="0.7" fill="#c4c4c4" />
<circle cx="92.75" cy="328.65" r="0.7" fill="#c4c4c4" />
<circle cx="111.85" cy="329.25" r="0.7" fill="#c4c4c4" />
<circle cx="114.06" cy="328.65" r="0.7" fill="#c4c4c4" />
<circle cx="117" cy="329.84" r="0.7" fill="#c4c4c4" />
<circle cx="91.28" cy="328.06" r="0.7" fill="#c4c4c4" />
<circle cx="112.96" cy="331.03" r="0.7" fill="#c4c4c4" />
<circle cx="78.78" cy="328.06" r="0.7" fill="#c4c4c4" />
<line x1="94.95" y1="194.8" x2="94.95" y2="340.8" stroke="#111" stroke-width="1" stroke-dasharray="3.9 2.3" />
<line x1="109.65" y1="194.8" x2="109.65" y2="340.8" stroke="#111" stroke-width="1" stroke-dasharray="3.9 2.3" />
<line x1="34.4" y1="326.28" x2="178.6" y2="326.28" stroke="#111" stroke-width="1" stroke-dasharray="3.9 2.3" />
<circle cx="93.91" cy="313.81" r="0.85" fill="#1c1cc0" />
<circle cx="93.23" cy="324.84" r="0.85" fill="#1c1cc0" />
<circle cx="92.12" cy="325.01" r="0.85" fill="#1c1cc0" />
<circle cx="94.02" cy="317.69" r="0.85" fill="#1c1cc0" />
<circle cx="91.84" cy="324.87" r="0.85" fill="#1c1cc0" />
<circle cx="93.92" cy="324.61" r="0.85" fill="#1c1cc0" />
<circle cx="90.17" cy="324.19" r="0.85" fill="#1c1cc0" />
<circle cx="92.32" cy="322.83" r="0.85" fill="#1c1cc0" />
<circle cx="90.11" cy="315.97" r="0.85" fill="#1c1cc0" />
<circle cx="89.97" cy="319.98" r="0.85" fill="#1c1cc0" />
<circle cx="93.77" cy="303.62" r="0.85" fill="#1c1cc0" />
<circle cx="94.46" cy="321.82" r="0.85" fill="#1c1cc0" />
<circle cx="93.77" cy="321.52" r="0.85" fill="#1c1cc0" />
<circle cx="93.54" cy="306.57" r="0.85" fill="#1c1cc0" />
<circle cx="93.11" cy="314.19" r="0.85" fill="#1c1cc0" />
<circle cx="91.42" cy="320.43" r="0.85" fill="#1c1cc0" />
<circle cx="93.67" cy="324.99" r="0.85" fill="#1c1cc0" />
<circle cx="94.3" cy="323.08" r="0.85" fill="#1c1cc0" />
<circle cx="93.4" cy="321.43" r="0.85" fill="#1c1cc0" />
<circle cx="92.05" cy="315.74" r="0.85" fill="#1c1cc0" />
<circle cx="92.44" cy="307.83" r="0.85" fill="#1c1cc0" />
<circle cx="93.93" cy="312.13" r="0.85" fill="#1c1cc0" />
<circle cx="94.45" cy="317.28" r="0.85" fill="#1c1cc0" />
<circle cx="91.13" cy="302.2" r="0.85" fill="#1c1cc0" />
<circle cx="94.3" cy="322.88" r="0.85" fill="#1c1cc0" />
<circle cx="92.42" cy="319.57" r="0.85" fill="#1c1cc0" />
<circle cx="94.51" cy="318.11" r="0.85" fill="#1c1cc0" />
<circle cx="93.06" cy="325.23" r="0.85" fill="#1c1cc0" />
<circle cx="92.37" cy="316.08" r="0.85" fill="#1c1cc0" />
<circle cx="90.66" cy="302.17" r="0.85" fill="#1c1cc0" />
<circle cx="92.99" cy="315.5" r="0.85" fill="#1c1cc0" />
<circle cx="90.83" cy="315.9" r="0.85" fill="#1c1cc0" />
<circle cx="89.71" cy="293.02" r="0.85" fill="#1c1cc0" />
<circle cx="93.21" cy="318.43" r="0.85" fill="#1c1cc0" />
<circle cx="94.1" cy="312.04" r="0.85" fill="#1c1cc0" />
<circle cx="93.78" cy="313.93" r="0.85" fill="#1c1cc0" />
<circle cx="89.67" cy="321.9" r="0.85" fill="#1c1cc0" />
<circle cx="94.37" cy="320.18" r="0.85" fill="#1c1cc0" />
<circle cx="94.31" cy="318.69" r="0.85" fill="#1c1cc0" />
<circle cx="94.09" cy="323.61" r="0.85" fill="#1c1cc0" />
<circle cx="93.9" cy="309.18" r="0.85" fill="#1c1cc0" />
<circle cx="93.96" cy="324.12" r="0.85" fill="#1c1cc0" />
<circle cx="94.54" cy="302.53" r="0.85" fill="#1c1cc0" />
<circle cx="91.95" cy="324.74" r="0.85" fill="#1c1cc0" />
<circle cx="91.41" cy="301.43" r="0.85" fill="#1c1cc0" />
<circle cx="93.53" cy="306.38" r="0.85" fill="#1c1cc0" />
<circle cx="93.18" cy="319.63" r="0.85" fill="#1c1cc0" />
<circle cx="92.97" cy="320.67" r="0.85" fill="#1c1cc0" />
<circle cx="89.61" cy="323.84" r="0.85" fill="#1c1cc0" />
<circle cx="90.16" cy="323.5" r="0.85" fill="#1c1cc0" />
<circle cx="94.36" cy="318.2" r="0.85" fill="#1c1cc0" />
<circle cx="92.67" cy="315.65" r="0.85" fill="#1c1cc0" />
<circle cx="94.56" cy="319.56" r="0.85" fill="#1c1cc0" />
<circle cx="94.34" cy="320.48" r="0.85" fill="#1c1cc0" />
<circle cx="88.6" cy="312.45" r="0.85" fill="#1c1cc0" />
<circle cx="91.93" cy="317.51" r="0.85" fill="#1c1cc0" />
<circle cx="91.65" cy="325.06" r="0.85" fill="#1c1cc0" />
<circle cx="91.91" cy="299.75" r="0.85" fill="#1c1cc0" />
<circle cx="93.57" cy="307.64" r="0.85" fill="#1c1cc0" />
<circle cx="89.29" cy="320.06" r="0.85" fill="#1c1cc0" />
<circle cx="93.59" cy="314.33" r="0.85" fill="#1c1cc0" />
<circle cx="93.85" cy="324.96" r="0.85" fill="#1c1cc0" />
<circle cx="92.93" cy="323.69" r="0.85" fill="#1c1cc0" />
<circle cx="93.84" cy="320.99" r="0.85" fill="#1c1cc0" />
<circle cx="94.53" cy="323.83" r="0.85" fill="#1c1cc0" />
<circle cx="94.56" cy="324.48" r="0.85" fill="#1c1cc0" />
<circle cx="94.19" cy="302.28" r="0.85" fill="#1c1cc0" />
<circle cx="94.13" cy="314.94" r="0.85" fill="#1c1cc0" />
<circle cx="93.38" cy="320.87" r="0.85" fill="#1c1cc0" />
<circle cx="92.96" cy="320.57" r="0.85" fill="#1c1cc0" />
<circle cx="90.9" cy="314.61" r="0.85" fill="#1c1cc0" />
<circle cx="90.99" cy="318.22" r="0.85" fill="#1c1cc0" />
<circle cx="93.53" cy="320.95" r="0.85" fill="#1c1cc0" />
<circle cx="93.95" cy="322.21" r="0.85" fill="#1c1cc0" />
<circle cx="93.84" cy="325.42" r="0.85" fill="#1c1cc0" />
<circle cx="93.2" cy="291.65" r="0.85" fill="#1c1cc0" />
<circle cx="93.12" cy="316.84" r="0.85" fill="#1c1cc0" />
<circle cx="94.32" cy="325.37" r="0.85" fill="#1c1cc0" />
<circle cx="87.36" cy="303.22" r="0.85" fill="#1c1cc0" />
<circle cx="93.29" cy="312.24" r="0.85" fill="#1c1cc0" />
<circle cx="94.41" cy="323.62" r="0.85" fill="#1c1cc0" />
<circle cx="92.06" cy="309" r="0.85" fill="#1c1cc0" />
<circle cx="90.08" cy="321.17" r="0.85" fill="#1c1cc0" />
<circle cx="93.65" cy="322.84" r="0.85" fill="#1c1cc0" />
<circle cx="91.69" cy="304.07" r="0.85" fill="#1c1cc0" />
<circle cx="87.48" cy="307.17" r="0.85" fill="#1c1cc0" />
<circle cx="92.77" cy="322.78" r="0.85" fill="#1c1cc0" />
<circle cx="90.63" cy="317.46" r="0.85" fill="#1c1cc0" />
<circle cx="94.19" cy="325.36" r="0.85" fill="#1c1cc0" />
<circle cx="94.08" cy="321.99" r="0.85" fill="#1c1cc0" />
<circle cx="94.35" cy="290.3" r="0.85" fill="#1c1cc0" />
<circle cx="90.53" cy="318.99" r="0.85" fill="#1c1cc0" />
<circle cx="87.32" cy="290.68" r="0.85" fill="#1c1cc0" />
<circle cx="91.55" cy="320.57" r="0.85" fill="#1c1cc0" />
<circle cx="94.23" cy="323.21" r="0.85" fill="#1c1cc0" />
<circle cx="92.72" cy="323.1" r="0.85" fill="#1c1cc0" />
<circle cx="90.54" cy="304.97" r="0.85" fill="#1c1cc0" />
<circle cx="90.59" cy="318.32" r="0.85" fill="#1c1cc0" />
<circle cx="91.87" cy="324.68" r="0.85" fill="#1c1cc0" />
<circle cx="90.69" cy="313.49" r="0.85" fill="#1c1cc0" />
<circle cx="90.68" cy="310.03" r="0.85" fill="#1c1cc0" />
<circle cx="92.1" cy="318.35" r="0.85" fill="#1c1cc0" />
<circle cx="92.56" cy="321.12" r="0.85" fill="#1c1cc0" />
<circle cx="90.38" cy="307.47" r="0.85" fill="#1c1cc0" />
<circle cx="91.97" cy="319.89" r="0.85" fill="#1c1cc0" />
<circle cx="94.11" cy="292.57" r="0.85" fill="#1c1cc0" />
<circle cx="94.33" cy="324.15" r="0.85" fill="#1c1cc0" />
<circle cx="92.99" cy="323.83" r="0.85" fill="#1c1cc0" />
<circle cx="90.62" cy="323.9" r="0.85" fill="#1c1cc0" />
<circle cx="91.88" cy="305.92" r="0.85" fill="#1c1cc0" />
<circle cx="90.74" cy="320.82" r="0.85" fill="#1c1cc0" />
<circle cx="94.1" cy="316.71" r="0.85" fill="#1c1cc0" />
<circle cx="94.28" cy="285.77" r="0.85" fill="#1c1cc0" />
<circle cx="94.25" cy="313.85" r="0.85" fill="#1c1cc0" />
<circle cx="88.51" cy="319.26" r="0.85" fill="#1c1cc0" />
<circle cx="93.56" cy="302.51" r="0.85" fill="#1c1cc0" />
<circle cx="93.74" cy="322.41" r="0.85" fill="#1c1cc0" />
<circle cx="92.97" cy="321.77" r="0.85" fill="#1c1cc0" />
<circle cx="94.37" cy="322.3" r="0.85" fill="#1c1cc0" />
<circle cx="91.07" cy="319.56" r="0.85" fill="#1c1cc0" />
<circle cx="90.64" cy="320.76" r="0.85" fill="#1c1cc0" />
<circle cx="90.32" cy="318.77" r="0.85" fill="#1c1cc0" />
<circle cx="89.62" cy="319.52" r="0.85" fill="#1c1cc0" />
<circle cx="91.72" cy="297.5" r="0.85" fill="#1c1cc0" />
<circle cx="91.32" cy="317.32" r="0.85" fill="#1c1cc0" />
<circle cx="94.55" cy="325.47" r="0.85" fill="#1c1cc0" />
<circle cx="93.02" cy="325.64" r="0.85" fill="#1c1cc0" />
<circle cx="93.96" cy="307.57" r="0.85" fill="#1c1cc0" />
<circle cx="93.18" cy="311.11" r="0.85" fill="#1c1cc0" />
<circle cx="91.94" cy="316.51" r="0.85" fill="#1c1cc0" />
<circle cx="93.11" cy="316.53" r="0.85" fill="#1c1cc0" />
<circle cx="91.74" cy="308.37" r="0.85" fill="#1c1cc0" />
<circle cx="91.92" cy="322.46" r="0.85" fill="#1c1cc0" />
<circle cx="92.48" cy="322.02" r="0.85" fill="#1c1cc0" />
<circle cx="94.14" cy="316.37" r="0.85" fill="#1c1cc0" />
<circle cx="91.46" cy="309.58" r="0.85" fill="#1c1cc0" />
<circle cx="92.14" cy="314.98" r="0.85" fill="#1c1cc0" />
<circle cx="93.09" cy="317.74" r="0.85" fill="#1c1cc0" />
<circle cx="90.53" cy="318.89" r="0.85" fill="#1c1cc0" />
<circle cx="94.27" cy="317.08" r="0.85" fill="#1c1cc0" />
<circle cx="88.34" cy="312.13" r="0.85" fill="#1c1cc0" />
<circle cx="93.72" cy="302.08" r="0.85" fill="#1c1cc0" />
<circle cx="92.66" cy="316.43" r="0.85" fill="#1c1cc0" />
<circle cx="93.85" cy="293.3" r="0.85" fill="#1c1cc0" />
<circle cx="93.81" cy="324.22" r="0.85" fill="#1c1cc0" />
<circle cx="93.37" cy="319.1" r="0.85" fill="#1c1cc0" />
<circle cx="92.82" cy="324.83" r="0.85" fill="#1c1cc0" />
<circle cx="93.72" cy="313.19" r="0.85" fill="#1c1cc0" />
<circle cx="93.39" cy="323.79" r="0.85" fill="#1c1cc0" />
<circle cx="89.07" cy="311.47" r="0.85" fill="#1c1cc0" />
<circle cx="68.12" cy="319.15" r="1" fill="#1c1cc0" />
<circle cx="78.05" cy="318.56" r="1" fill="#1c1cc0" />
<circle cx="81.35" cy="319.45" r="1" fill="#1c1cc0" />
<circle cx="86.13" cy="320.34" r="1" fill="#1c1cc0" />
<circle cx="85.39" cy="324.5" r="1" fill="#1c1cc0" />
<circle cx="88.33" cy="314.99" r="1" fill="#1c1cc0" />
<circle cx="87.6" cy="309.05" r="1" fill="#1c1cc0" />
<circle cx="89.8" cy="295.98" r="1" fill="#1c1cc0" />
<circle cx="91.64" cy="288.26" r="1" fill="#1c1cc0" />
<circle cx="93.48" cy="282.32" r="1" fill="#1c1cc0" />
<circle cx="93.85" cy="285.29" r="1" fill="#1c1cc0" />
<circle cx="88.33" cy="301.33" r="1" fill="#1c1cc0" />
<circle cx="40.93" cy="273.71" r="1" fill="#1c1cc0" />
<circle cx="86.28" cy="268.66" r="1" fill="#1c1cc0" />
<circle cx="85.03" cy="299.55" r="1" fill="#1c1cc0" />
<circle cx="110.67" cy="295.12" r="0.85" fill="#a81414" />
<circle cx="111.05" cy="317.86" r="0.85" fill="#a81414" />
<circle cx="112.14" cy="316.16" r="0.85" fill="#a81414" />
<circle cx="110.67" cy="296.02" r="0.85" fill="#a81414" />
<circle cx="111.25" cy="315.35" r="0.85" fill="#a81414" />
<circle cx="112.01" cy="319.78" r="0.85" fill="#a81414" />
<circle cx="110.66" cy="307.43" r="0.85" fill="#a81414" />
<circle cx="111.84" cy="325.4" r="0.85" fill="#a81414" />
<circle cx="112.26" cy="325.42" r="0.85" fill="#a81414" />
<circle cx="110.81" cy="319.94" r="0.85" fill="#a81414" />
<circle cx="111.9" cy="324.74" r="0.85" fill="#a81414" />
<circle cx="111.87" cy="297.59" r="0.85" fill="#a81414" />
<circle cx="111.04" cy="321.28" r="0.85" fill="#a81414" />
<circle cx="110.2" cy="325.11" r="0.85" fill="#a81414" />
<circle cx="110.33" cy="323.71" r="0.85" fill="#a81414" />
<circle cx="111.74" cy="317.86" r="0.85" fill="#a81414" />
<circle cx="113.48" cy="321.42" r="0.85" fill="#a81414" />
<circle cx="112.17" cy="323.38" r="0.85" fill="#a81414" />
<circle cx="112.52" cy="308.5" r="0.85" fill="#a81414" />
<circle cx="111.41" cy="324.35" r="0.85" fill="#a81414" />
<circle cx="113.17" cy="317.79" r="0.85" fill="#a81414" />
<circle cx="111.21" cy="324.61" r="0.85" fill="#a81414" />
<circle cx="112.91" cy="302.62" r="0.85" fill="#a81414" />
<circle cx="111.2" cy="324.44" r="0.85" fill="#a81414" />
<circle cx="110.52" cy="297.37" r="0.85" fill="#a81414" />
<circle cx="110.66" cy="317.06" r="0.85" fill="#a81414" />
<circle cx="111.5" cy="288.44" r="0.85" fill="#a81414" />
<circle cx="112.39" cy="321.24" r="0.85" fill="#a81414" />
<circle cx="111.87" cy="321.8" r="0.85" fill="#a81414" />
<circle cx="111.98" cy="324.03" r="0.85" fill="#a81414" />
<circle cx="110.39" cy="322.47" r="0.85" fill="#a81414" />
<circle cx="110.62" cy="320.35" r="0.85" fill="#a81414" />
<circle cx="111.28" cy="320.8" r="0.85" fill="#a81414" />
<circle cx="113.52" cy="315.8" r="0.85" fill="#a81414" />
<circle cx="110.91" cy="325.42" r="0.85" fill="#a81414" />
<circle cx="111.85" cy="321.57" r="0.85" fill="#a81414" />
<circle cx="113.58" cy="314.27" r="0.85" fill="#a81414" />
<circle cx="110.36" cy="322.69" r="0.85" fill="#a81414" />
<circle cx="115.1" cy="324.08" r="0.85" fill="#a81414" />
<circle cx="110.83" cy="301.32" r="0.85" fill="#a81414" />
<circle cx="112.36" cy="300.03" r="0.85" fill="#a81414" />
<circle cx="111.08" cy="318.57" r="0.85" fill="#a81414" />
<circle cx="113.38" cy="313.47" r="0.85" fill="#a81414" />
<circle cx="110.16" cy="300.23" r="0.85" fill="#a81414" />
<circle cx="110.86" cy="318.29" r="0.85" fill="#a81414" />
<circle cx="113.04" cy="319.6" r="0.85" fill="#a81414" />
<circle cx="111.11" cy="324.64" r="0.85" fill="#a81414" />
<circle cx="110.41" cy="306.43" r="0.85" fill="#a81414" />
<circle cx="110.06" cy="324.43" r="0.85" fill="#a81414" />
<circle cx="111.33" cy="299.45" r="0.85" fill="#a81414" />
<circle cx="112.27" cy="320.96" r="0.85" fill="#a81414" />
<circle cx="112.41" cy="321.73" r="0.85" fill="#a81414" />
<circle cx="110.67" cy="323.24" r="0.85" fill="#a81414" />
<circle cx="112.37" cy="317.27" r="0.85" fill="#a81414" />
<circle cx="110.49" cy="306.19" r="0.85" fill="#a81414" />
<circle cx="115.63" cy="321.69" r="0.85" fill="#a81414" />
<circle cx="111.87" cy="319.4" r="0.85" fill="#a81414" />
<circle cx="110.42" cy="325.67" r="0.85" fill="#a81414" />
<circle cx="111.86" cy="315.72" r="0.85" fill="#a81414" />
<circle cx="111.71" cy="322.49" r="0.85" fill="#a81414" />
<circle cx="110.24" cy="321.31" r="0.85" fill="#a81414" />
<circle cx="110.02" cy="324.34" r="0.85" fill="#a81414" />
<circle cx="110.54" cy="325.36" r="0.85" fill="#a81414" />
<circle cx="110.4" cy="320.51" r="0.85" fill="#a81414" />
<circle cx="110.33" cy="314.94" r="0.85" fill="#a81414" />
<circle cx="112.93" cy="305.89" r="0.85" fill="#a81414" />
<circle cx="111.94" cy="295.57" r="0.85" fill="#a81414" />
<circle cx="112.94" cy="318.65" r="0.85" fill="#a81414" />
<circle cx="112.95" cy="323.38" r="0.85" fill="#a81414" />
<circle cx="115.68" cy="307.32" r="0.85" fill="#a81414" />
<circle cx="110.43" cy="299.97" r="0.85" fill="#a81414" />
<circle cx="110.53" cy="293.96" r="0.85" fill="#a81414" />
<circle cx="112.52" cy="301.84" r="0.85" fill="#a81414" />
<circle cx="112.59" cy="323.55" r="0.85" fill="#a81414" />
<circle cx="112.6" cy="300" r="0.85" fill="#a81414" />
<circle cx="110.41" cy="302.4" r="0.85" fill="#a81414" />
<circle cx="111.37" cy="293.85" r="0.85" fill="#a81414" />
<circle cx="112.61" cy="309.31" r="0.85" fill="#a81414" />
<circle cx="110.57" cy="325.23" r="0.85" fill="#a81414" />
<circle cx="111.51" cy="323.65" r="0.85" fill="#a81414" />
<circle cx="110.68" cy="299.93" r="0.85" fill="#a81414" />
<circle cx="110.81" cy="314.03" r="0.85" fill="#a81414" />
<circle cx="112.17" cy="309.41" r="0.85" fill="#a81414" />
<circle cx="112.24" cy="316.1" r="0.85" fill="#a81414" />
<circle cx="113.96" cy="306.02" r="0.85" fill="#a81414" />
<circle cx="110.1" cy="315.72" r="0.85" fill="#a81414" />
<circle cx="113.17" cy="324.71" r="0.85" fill="#a81414" />
<circle cx="110.73" cy="306.66" r="0.85" fill="#a81414" />
<circle cx="110.03" cy="321.28" r="0.85" fill="#a81414" />
<circle cx="110.88" cy="307.05" r="0.85" fill="#a81414" />
<circle cx="111.02" cy="308.08" r="0.85" fill="#a81414" />
<circle cx="113.49" cy="318.81" r="0.85" fill="#a81414" />
<circle cx="113.33" cy="304.92" r="0.85" fill="#a81414" />
<circle cx="110.46" cy="312" r="0.85" fill="#a81414" />
<circle cx="110.57" cy="323.41" r="0.85" fill="#a81414" />
<circle cx="123.25" cy="201.54" r="1" fill="#a81414" />
<circle cx="119.06" cy="241.93" r="1" fill="#a81414" />
<circle cx="126.33" cy="244.31" r="1" fill="#a81414" />
<circle cx="172.49" cy="248.46" r="1" fill="#a81414" />
<circle cx="128.39" cy="266.28" r="1" fill="#a81414" />
<circle cx="113.69" cy="273.41" r="1" fill="#a81414" />
<circle cx="111.85" cy="275.19" r="1" fill="#a81414" />
<circle cx="119.94" cy="290.94" r="1" fill="#a81414" />
<circle cx="141.99" cy="303.11" r="1" fill="#a81414" />
<circle cx="153.38" cy="308.46" r="1" fill="#a81414" />
<circle cx="134.64" cy="312.91" r="1" fill="#a81414" />
<circle cx="139.78" cy="313.51" r="1" fill="#a81414" />
<circle cx="124.35" cy="319.45" r="1" fill="#a81414" />
<circle cx="116.27" cy="310.24" r="1" fill="#a81414" />
<circle cx="114.8" cy="312.62" r="1" fill="#a81414" />
<line x1="123.25" y1="201.54" x2="132.8" y2="201.3" stroke="#222" stroke-width="0.55" />
<line x1="119.06" y1="241.93" x2="123.6" y2="236" stroke="#222" stroke-width="0.55" />
<line x1="172.49" y1="248.46" x2="163.8" y2="244.2" stroke="#222" stroke-width="0.55" />
<line x1="128.39" y1="266.28" x2="134.2" y2="262.2" stroke="#222" stroke-width="0.55" />
<line x1="40.93" y1="273.71" x2="43.6" y2="254.2" stroke="#222" stroke-width="0.55" />
<line x1="86.28" y1="268.66" x2="84" y2="262.6" stroke="#222" stroke-width="0.55" />
<line x1="85.03" y1="299.55" x2="72.6" y2="291.4" stroke="#222" stroke-width="0.55" />
<text x="135" y="205.5" font-size="8.6" fill="#111">Mid1</text>
<text x="113.6" y="233.5" font-size="8.6" fill="#111">Plscr2</text>
<text x="139.6" y="243.6" font-size="8.6" fill="#111">Gm45837</text>
<text x="34.6" y="252" font-size="8.6" fill="#111">Gm16867</text>
<text x="76.8" y="261" font-size="8.6" fill="#111">Cd4</text>
<text x="135.2" y="264.2" font-size="8.6" fill="#111">Arx</text>
<text x="61.8" y="290.4" font-size="8.6" fill="#111">Emp1</text>
<text x="37" y="322.8" font-size="10.2" fill="#3a2cff">316</text>
<text x="171.4" y="322.8" font-size="10.2" text-anchor="end" fill="#c4262c">163</text>
<rect x="34.4" y="194.8" width="144.2" height="146" fill="none" stroke="#222" stroke-width="1.1" />
<line x1="65.55" y1="340.8" x2="65.55" y2="343.4" stroke="#222" stroke-width="0.9" />
<text x="64.35" y="352.9" font-size="10.5" text-anchor="middle" fill="#111">-5</text>
<line x1="102.3" y1="340.8" x2="102.3" y2="343.4" stroke="#222" stroke-width="0.9" />
<text x="102.3" y="352.9" font-size="10.5" text-anchor="middle" fill="#111">0</text>
<line x1="139.05" y1="340.8" x2="139.05" y2="343.4" stroke="#222" stroke-width="0.9" />
<text x="139.05" y="352.9" font-size="10.5" text-anchor="middle" fill="#111">5</text>
<line x1="175.8" y1="340.8" x2="175.8" y2="343.4" stroke="#222" stroke-width="0.9" />
<text x="175.8" y="352.9" font-size="10.5" text-anchor="middle" fill="#111">10</text>
<line x1="31.8" y1="334" x2="34.4" y2="334" stroke="#222" stroke-width="0.9" />
<text x="30.6" y="337.8" font-size="10.5" text-anchor="end" fill="#111">0</text>
<line x1="31.8" y1="304.3" x2="34.4" y2="304.3" stroke="#222" stroke-width="0.9" />
<text x="30.6" y="308.1" font-size="10.5" text-anchor="end" fill="#111">5</text>
<line x1="31.8" y1="274.6" x2="34.4" y2="274.6" stroke="#222" stroke-width="0.9" />
<text x="30.6" y="278.4" font-size="10.5" text-anchor="end" fill="#111">10</text>
<line x1="31.8" y1="244.9" x2="34.4" y2="244.9" stroke="#222" stroke-width="0.9" />
<text x="30.6" y="248.7" font-size="10.5" text-anchor="end" fill="#111">15</text>
<line x1="31.8" y1="215.2" x2="34.4" y2="215.2" stroke="#222" stroke-width="0.9" />
<text x="30.6" y="219" font-size="10.5" text-anchor="end" fill="#111">20</text>
<text x="57" y="186.2" font-size="10.5" fill="#111"><tspan font-style="italic">cKO</tspan> versus <tspan font-style="italic">fl</tspan> (HSCs)</text>
<text x="61.2" y="362.8" font-size="10.5" fill="#111">Log₂ (fold change)</text>
<text x="16" y="304.4" font-size="10.5" fill="#111" transform="rotate(-90 16 304.4)">-Log<tspan font-size="6" dy="1.6">10 </tspan><tspan dy="-1.6">(</tspan><tspan font-style="italic">P</tspan>-value)</text>
<rect x="382.8" y="192.6" width="98.2" height="145.2" fill="#fff" />
<line x1="395.62" y1="192.6" x2="395.62" y2="337.8" stroke="#f1f1f1" stroke-width="0.5" />
<line x1="422.38" y1="192.6" x2="422.38" y2="337.8" stroke="#f1f1f1" stroke-width="0.5" />
<line x1="449.12" y1="192.6" x2="449.12" y2="337.8" stroke="#f1f1f1" stroke-width="0.5" />
<line x1="475.88" y1="192.6" x2="475.88" y2="337.8" stroke="#f1f1f1" stroke-width="0.5" />
<line x1="409" y1="192.6" x2="409" y2="337.8" stroke="#e9e9e9" stroke-width="0.9" />
<line x1="435.75" y1="192.6" x2="435.75" y2="337.8" stroke="#e9e9e9" stroke-width="0.9" />
<line x1="462.5" y1="192.6" x2="462.5" y2="337.8" stroke="#e9e9e9" stroke-width="0.9" />
<line x1="382.8" y1="204.5" x2="481" y2="204.5" stroke="#e9e9e9" stroke-width="0.9" />
<line x1="382.8" y1="217.5" x2="481" y2="217.5" stroke="#e9e9e9" stroke-width="0.9" />
<line x1="382.8" y1="231.6" x2="481" y2="231.6" stroke="#e9e9e9" stroke-width="0.9" />
<line x1="382.8" y1="245.6" x2="481" y2="245.6" stroke="#e9e9e9" stroke-width="0.9" />
<line x1="382.8" y1="259.6" x2="481" y2="259.6" stroke="#e9e9e9" stroke-width="0.9" />
<line x1="382.8" y1="273.6" x2="481" y2="273.6" stroke="#e9e9e9" stroke-width="0.9" />
<line x1="382.8" y1="287.9" x2="481" y2="287.9" stroke="#e9e9e9" stroke-width="0.9" />
<line x1="382.8" y1="302.2" x2="481" y2="302.2" stroke="#e9e9e9" stroke-width="0.9" />
<line x1="382.8" y1="316.4" x2="481" y2="316.4" stroke="#e9e9e9" stroke-width="0.9" />
<line x1="382.8" y1="330.2" x2="481" y2="330.2" stroke="#e9e9e9" stroke-width="0.9" />
<circle cx="475.3" cy="204.5" r="4.9" fill="#dc1e4a" />
<circle cx="466.3" cy="217.5" r="4.7" fill="#c62a9c" />
<circle cx="466.3" cy="231.6" r="4.7" fill="#1400ff" />
<circle cx="435" cy="245.6" r="4.2" fill="#c832a0" />
<circle cx="435" cy="259.6" r="4.2" fill="#c832a0" />
<circle cx="424.8" cy="273.6" r="4" fill="#d82870" />
<circle cx="413.5" cy="287.9" r="3.8" fill="#ff2222" />
<circle cx="413.5" cy="302.2" r="3.8" fill="#ff2222" />
<circle cx="413.5" cy="316.4" r="3.8" fill="#9a28f0" />
<circle cx="393.8" cy="330.2" r="3.2" fill="#a028f0" />
<rect x="382.8" y="192.6" width="98.2" height="145.2" fill="none" stroke="#4a4a4a" stroke-width="1.1" />
<line x1="409" y1="337.8" x2="409" y2="340.4" stroke="#222" stroke-width="0.9" />
<text x="409" y="352.4" font-size="10.3" text-anchor="middle" fill="#222">0.04</text>
<line x1="435.75" y1="337.8" x2="435.75" y2="340.4" stroke="#222" stroke-width="0.9" />
<text x="435.75" y="352.4" font-size="10.3" text-anchor="middle" fill="#222">0.05</text>
<line x1="462.5" y1="337.8" x2="462.5" y2="340.4" stroke="#222" stroke-width="0.9" />
<text x="462.5" y="352.4" font-size="10.3" text-anchor="middle" fill="#222">0.06</text>
<text x="437.5" y="367" font-size="10.5" text-anchor="middle" fill="#111">GeneRatio</text>
<text x="428.8" y="185.4" font-size="10.5" text-anchor="middle" fill="#111">GO enrichment</text>
<text x="375.3" y="204.6" font-size="10.55" text-anchor="end" fill="#111">Myeloid cell differentiation</text>
<text x="379.5" y="219" font-size="10.55" text-anchor="end" fill="#111">Regulation of hemopoiesis</text>
<text x="376.3" y="233.5" font-size="10.55" text-anchor="end" fill="#111">Positive regulation of cytokine production</text>
<text x="376.3" y="248.2" font-size="10.55" text-anchor="end" fill="#111">Extracellular matrix organization</text>
<text x="376.3" y="262.7" font-size="10.55" text-anchor="end" fill="#111">Extracellular structure organization</text>
<text x="379.5" y="276.5" font-size="10.55" text-anchor="end" fill="#111">Regulation of myeloid cell differentiation</text>
<text x="377" y="290.6" font-size="10.55" text-anchor="end" fill="#111">Cellular response to interferon−beta</text>
<text x="379.5" y="305" font-size="10.55" text-anchor="end" fill="#111">Response to interferon−beta</text>
<text x="375.3" y="319.1" font-size="10.55" text-anchor="end" fill="#111">Myeloid leukocyte differentiation</text>
<text x="376.3" y="333" font-size="10.55" text-anchor="end" fill="#111">Endothelial cell proliferation</text>
<text x="485.6" y="203" font-size="10.5" fill="#111">p.adjust</text>
<defs><linearGradient id="pg" x1="0" y1="0" x2="0" y2="1"><stop offset="0" stop-color="#ff2020"/><stop offset="0.5" stop-color="#c02ca8"/><stop offset="0.8" stop-color="#8030f0"/><stop offset="1" stop-color="#1800ff"/></linearGradient></defs>
<rect x="488.3" y="208.5" width="11.7" height="53" fill="url(#pg)" />
<text x="502.2" y="223.3" font-size="10.5" fill="#111">0.0025</text>
<line x1="488.3" y1="219.6" x2="490.6" y2="219.6" stroke="#fff" stroke-width="0.6" />
<line x1="497.7" y1="219.6" x2="500" y2="219.6" stroke="#fff" stroke-width="0.6" />
<text x="502.2" y="235.7" font-size="10.5" fill="#111">0.0050</text>
<line x1="488.3" y1="232" x2="490.6" y2="232" stroke="#fff" stroke-width="0.6" />
<line x1="497.7" y1="232" x2="500" y2="232" stroke="#fff" stroke-width="0.6" />
<text x="502.2" y="248" font-size="10.5" fill="#111">0.0075</text>
<line x1="488.3" y1="244.3" x2="490.6" y2="244.3" stroke="#fff" stroke-width="0.6" />
<line x1="497.7" y1="244.3" x2="500" y2="244.3" stroke="#fff" stroke-width="0.6" />
<text x="502.2" y="260.3" font-size="10.5" fill="#111">0.0100</text>
<line x1="488.3" y1="256.6" x2="490.6" y2="256.6" stroke="#fff" stroke-width="0.6" />
<line x1="497.7" y1="256.6" x2="500" y2="256.6" stroke="#fff" stroke-width="0.6" />
<text x="485.6" y="278.6" font-size="10.5" fill="#111">Count</text>
<circle cx="494.5" cy="289.6" r="2.9" fill="#000" />
<text x="510" y="293.3" font-size="10.5" fill="#111">6</text>
<circle cx="494.5" cy="299.6" r="3.7" fill="#000" />
<text x="510" y="303.3" font-size="10.5" fill="#111">9</text>
<circle cx="494.5" cy="309.8" r="4.2" fill="#000" />
<text x="509.4" y="313.5" font-size="10.5" fill="#111">12</text>
<circle cx="494.5" cy="320.3" r="4.6" fill="#000" />
<text x="509.4" y="324" font-size="10.5" fill="#111">15</text>
<rect x="573.7" y="185.5" width="110.9" height="68.3" fill="#fff" />
<line x1="591" y1="185.5" x2="591" y2="234.2" stroke="#eeeeee" stroke-width="0.7" />
<line x1="617" y1="185.5" x2="617" y2="234.2" stroke="#eeeeee" stroke-width="0.7" />
<line x1="643" y1="185.5" x2="643" y2="234.2" stroke="#eeeeee" stroke-width="0.7" />
<line x1="669" y1="185.5" x2="669" y2="234.2" stroke="#eeeeee" stroke-width="0.7" />
<line x1="573.7" y1="188.82" x2="684.6" y2="188.82" stroke="#e4e4e4" stroke-width="0.8" />
<text x="571.2" y="193.12" font-size="10.8" text-anchor="end" fill="#111">0.4</text>
<line x1="573.7" y1="230.9" x2="684.6" y2="230.9" stroke="#e4e4e4" stroke-width="0.8" />
<text x="571.2" y="235.2" font-size="10.8" text-anchor="end" fill="#111">0.0</text>
<line x1="574.4" y1="234.2" x2="574.4" y2="249.3" stroke="rgb(42,42,42)" stroke-width="0.6" />
<line x1="575.64" y1="234.2" x2="575.64" y2="249.3" stroke="rgb(38,38,38)" stroke-width="0.6" />
<line x1="576.26" y1="234.2" x2="576.26" y2="249.3" stroke="rgb(14,14,14)" stroke-width="0.6" />
<line x1="576.88" y1="234.2" x2="576.88" y2="249.3" stroke="rgb(48,48,48)" stroke-width="0.6" />
<line x1="577.5" y1="234.2" x2="577.5" y2="249.3" stroke="rgb(7,7,7)" stroke-width="0.6" />
<line x1="578.12" y1="234.2" x2="578.12" y2="249.3" stroke="rgb(6,6,6)" stroke-width="0.6" />
<line x1="578.74" y1="234.2" x2="578.74" y2="249.3" stroke="rgb(53,53,53)" stroke-width="0.6" />
<line x1="579.36" y1="234.2" x2="579.36" y2="249.3" stroke="rgb(75,75,75)" stroke-width="0.6" />
<line x1="580.6" y1="234.2" x2="580.6" y2="249.3" stroke="rgb(47,47,47)" stroke-width="0.6" />
<line x1="581.22" y1="234.2" x2="581.22" y2="249.3" stroke="rgb(1,1,1)" stroke-width="0.6" />
<line x1="581.84" y1="234.2" x2="581.84" y2="249.3" stroke="rgb(4,4,4)" stroke-width="0.6" />
<line x1="582.46" y1="234.2" x2="582.46" y2="249.3" stroke="rgb(18,18,18)" stroke-width="0.6" />
<line x1="583.08" y1="234.2" x2="583.08" y2="249.3" stroke="rgb(35,35,35)" stroke-width="0.6" />
<line x1="583.7" y1="234.2" x2="583.7" y2="249.3" stroke="rgb(64,64,64)" stroke-width="0.6" />
<line x1="584.32" y1="234.2" x2="584.32" y2="249.3" stroke="rgb(48,48,48)" stroke-width="0.6" />
<line x1="584.94" y1="234.2" x2="584.94" y2="249.3" stroke="rgb(50,50,50)" stroke-width="0.6" />
<line x1="585.56" y1="234.2" x2="585.56" y2="249.3" stroke="rgb(21,21,21)" stroke-width="0.6" />
<line x1="587.42" y1="234.2" x2="587.42" y2="249.3" stroke="rgb(54,54,54)" stroke-width="0.6" />
<line x1="588.04" y1="234.2" x2="588.04" y2="249.3" stroke="rgb(17,17,17)" stroke-width="0.6" />
<line x1="588.66" y1="234.2" x2="588.66" y2="249.3" stroke="rgb(5,5,5)" stroke-width="0.6" />
<line x1="589.28" y1="234.2" x2="589.28" y2="249.3" stroke="rgb(30,30,30)" stroke-width="0.6" />
<line x1="589.9" y1="234.2" x2="589.9" y2="249.3" stroke="rgb(29,29,29)" stroke-width="0.6" />
<line x1="591.14" y1="234.2" x2="591.14" y2="249.3" stroke="rgb(0,0,0)" stroke-width="0.6" />
<line x1="591.76" y1="234.2" x2="591.76" y2="249.3" stroke="rgb(69,69,69)" stroke-width="0.6" />
<line x1="592.38" y1="234.2" x2="592.38" y2="249.3" stroke="rgb(74,74,74)" stroke-width="0.6" />
<line x1="593" y1="234.2" x2="593" y2="249.3" stroke="rgb(5,5,5)" stroke-width="0.6" />
<line x1="593.62" y1="234.2" x2="593.62" y2="249.3" stroke="rgb(59,59,59)" stroke-width="0.6" />
<line x1="594.24" y1="234.2" x2="594.24" y2="249.3" stroke="rgb(6,6,6)" stroke-width="0.6" />
<line x1="594.86" y1="234.2" x2="594.86" y2="249.3" stroke="rgb(73,73,73)" stroke-width="0.6" />
<line x1="595.48" y1="234.2" x2="595.48" y2="249.3" stroke="rgb(9,9,9)" stroke-width="0.6" />
<line x1="596" y1="234.2" x2="596" y2="249.3" stroke="rgb(24,24,24)" stroke-width="0.6" />
<line x1="596.62" y1="234.2" x2="596.62" y2="249.3" stroke="rgb(104,104,104)" stroke-width="0.6" />
<line x1="597.24" y1="234.2" x2="597.24" y2="249.3" stroke="rgb(76,76,76)" stroke-width="0.6" />
<line x1="597.86" y1="234.2" x2="597.86" y2="249.3" stroke="rgb(34,34,34)" stroke-width="0.6" />
<line x1="598.48" y1="234.2" x2="598.48" y2="249.3" stroke="rgb(27,27,27)" stroke-width="0.6" />
<line x1="599.1" y1="234.2" x2="599.1" y2="249.3" stroke="rgb(26,26,26)" stroke-width="0.6" />
<line x1="599.72" y1="234.2" x2="599.72" y2="249.3" stroke="rgb(37,37,37)" stroke-width="0.6" />
<line x1="600.34" y1="234.2" x2="600.34" y2="249.3" stroke="rgb(124,124,124)" stroke-width="0.6" />
<line x1="601.58" y1="234.2" x2="601.58" y2="249.3" stroke="rgb(114,114,114)" stroke-width="0.6" />
<line x1="602.2" y1="234.2" x2="602.2" y2="249.3" stroke="rgb(57,57,57)" stroke-width="0.6" />
<line x1="603.44" y1="234.2" x2="603.44" y2="249.3" stroke="rgb(24,24,24)" stroke-width="0.6" />
<line x1="604.68" y1="234.2" x2="604.68" y2="249.3" stroke="rgb(42,42,42)" stroke-width="0.6" />
<line x1="605.3" y1="234.2" x2="605.3" y2="249.3" stroke="rgb(50,50,50)" stroke-width="0.6" />
<line x1="605.92" y1="234.2" x2="605.92" y2="249.3" stroke="rgb(21,21,21)" stroke-width="0.6" />
<line x1="606.54" y1="234.2" x2="606.54" y2="249.3" stroke="rgb(79,79,79)" stroke-width="0.6" />
<line x1="607.16" y1="234.2" x2="607.16" y2="249.3" stroke="rgb(81,81,81)" stroke-width="0.6" />
<line x1="607.78" y1="234.2" x2="607.78" y2="249.3" stroke="rgb(64,64,64)" stroke-width="0.6" />
<line x1="609.02" y1="234.2" x2="609.02" y2="249.3" stroke="rgb(78,78,78)" stroke-width="0.6" />
<line x1="610.26" y1="234.2" x2="610.26" y2="249.3" stroke="rgb(30,30,30)" stroke-width="0.6" />
<line x1="617.74" y1="234.2" x2="617.74" y2="249.3" stroke="rgb(201,201,201)" stroke-width="0.6" />
<line x1="623.32" y1="234.2" x2="623.32" y2="249.3" stroke="rgb(144,144,144)" stroke-width="0.6" />
<line x1="626.2" y1="234.2" x2="626.2" y2="249.3" stroke="rgb(59,59,59)" stroke-width="0.6" />
<line x1="626.82" y1="234.2" x2="626.82" y2="249.3" stroke="rgb(65,65,65)" stroke-width="0.6" />
<line x1="627.44" y1="234.2" x2="627.44" y2="249.3" stroke="rgb(44,44,44)" stroke-width="0.6" />
<line x1="628.06" y1="234.2" x2="628.06" y2="249.3" stroke="rgb(75,75,75)" stroke-width="0.6" />
<line x1="628.68" y1="234.2" x2="628.68" y2="249.3" stroke="rgb(51,51,51)" stroke-width="0.6" />
<line x1="629.3" y1="234.2" x2="629.3" y2="249.3" stroke="rgb(129,129,129)" stroke-width="0.6" />
<line x1="630.54" y1="234.2" x2="630.54" y2="249.3" stroke="rgb(108,108,108)" stroke-width="0.6" />
<line x1="631.16" y1="234.2" x2="631.16" y2="249.3" stroke="rgb(52,52,52)" stroke-width="0.6" />
<line x1="631.78" y1="234.2" x2="631.78" y2="249.3" stroke="rgb(40,40,40)" stroke-width="0.6" />
<line x1="632.4" y1="234.2" x2="632.4" y2="249.3" stroke="rgb(109,109,109)" stroke-width="0.6" />
<line x1="633.64" y1="234.2" x2="633.64" y2="249.3" stroke="rgb(103,103,103)" stroke-width="0.6" />
<line x1="634.26" y1="234.2" x2="634.26" y2="249.3" stroke="rgb(112,112,112)" stroke-width="0.6" />
<line x1="634.88" y1="234.2" x2="634.88" y2="249.3" stroke="rgb(140,140,140)" stroke-width="0.6" />
<line x1="635.5" y1="234.2" x2="635.5" y2="249.3" stroke="rgb(93,93,93)" stroke-width="0.6" />
<line x1="636.12" y1="234.2" x2="636.12" y2="249.3" stroke="rgb(130,130,130)" stroke-width="0.6" />
<line x1="636.74" y1="234.2" x2="636.74" y2="249.3" stroke="rgb(110,110,110)" stroke-width="0.6" />
<line x1="637.36" y1="234.2" x2="637.36" y2="249.3" stroke="rgb(131,131,131)" stroke-width="0.6" />
<line x1="637.98" y1="234.2" x2="637.98" y2="249.3" stroke="rgb(108,108,108)" stroke-width="0.6" />
<line x1="638.6" y1="234.2" x2="638.6" y2="249.3" stroke="rgb(127,127,127)" stroke-width="0.6" />
<line x1="639.22" y1="234.2" x2="639.22" y2="249.3" stroke="rgb(118,118,118)" stroke-width="0.6" />
<line x1="639.84" y1="234.2" x2="639.84" y2="249.3" stroke="rgb(96,96,96)" stroke-width="0.6" />
<line x1="640" y1="234.2" x2="640" y2="249.3" stroke="rgb(115,115,115)" stroke-width="0.6" />
<line x1="640.62" y1="234.2" x2="640.62" y2="249.3" stroke="rgb(138,138,138)" stroke-width="0.6" />
<line x1="641.24" y1="234.2" x2="641.24" y2="249.3" stroke="rgb(141,141,141)" stroke-width="0.6" />
<line x1="643.1" y1="234.2" x2="643.1" y2="249.3" stroke="rgb(116,116,116)" stroke-width="0.6" />
<line x1="643.72" y1="234.2" x2="643.72" y2="249.3" stroke="rgb(135,135,135)" stroke-width="0.6" />
<line x1="644.34" y1="234.2" x2="644.34" y2="249.3" stroke="rgb(162,162,162)" stroke-width="0.6" />
<line x1="644.96" y1="234.2" x2="644.96" y2="249.3" stroke="rgb(153,153,153)" stroke-width="0.6" />
<line x1="645.58" y1="234.2" x2="645.58" y2="249.3" stroke="rgb(137,137,137)" stroke-width="0.6" />
<line x1="646.2" y1="234.2" x2="646.2" y2="249.3" stroke="rgb(99,99,99)" stroke-width="0.6" />
<line x1="646.82" y1="234.2" x2="646.82" y2="249.3" stroke="rgb(127,127,127)" stroke-width="0.6" />
<line x1="647.44" y1="234.2" x2="647.44" y2="249.3" stroke="rgb(170,170,170)" stroke-width="0.6" />
<line x1="648.06" y1="234.2" x2="648.06" y2="249.3" stroke="rgb(77,77,77)" stroke-width="0.6" />
<line x1="648.68" y1="234.2" x2="648.68" y2="249.3" stroke="rgb(145,145,145)" stroke-width="0.6" />
<line x1="649.3" y1="234.2" x2="649.3" y2="249.3" stroke="rgb(93,93,93)" stroke-width="0.6" />
<line x1="650.54" y1="234.2" x2="650.54" y2="249.3" stroke="rgb(121,121,121)" stroke-width="0.6" />
<line x1="651.78" y1="234.2" x2="651.78" y2="249.3" stroke="rgb(144,144,144)" stroke-width="0.6" />
<line x1="652.4" y1="234.2" x2="652.4" y2="249.3" stroke="rgb(120,120,120)" stroke-width="0.6" />
<line x1="654.88" y1="234.2" x2="654.88" y2="249.3" stroke="rgb(135,135,135)" stroke-width="0.6" />
<line x1="655.5" y1="234.2" x2="655.5" y2="249.3" stroke="rgb(90,90,90)" stroke-width="0.6" />
<line x1="656.12" y1="234.2" x2="656.12" y2="249.3" stroke="rgb(161,161,161)" stroke-width="0.6" />
<line x1="658.24" y1="234.2" x2="658.24" y2="249.3" stroke="rgb(119,119,119)" stroke-width="0.6" />
<line x1="658.86" y1="234.2" x2="658.86" y2="249.3" stroke="rgb(130,130,130)" stroke-width="0.6" />
<line x1="659.48" y1="234.2" x2="659.48" y2="249.3" stroke="rgb(144,144,144)" stroke-width="0.6" />
<line x1="660.72" y1="234.2" x2="660.72" y2="249.3" stroke="rgb(134,134,134)" stroke-width="0.6" />
<line x1="662.58" y1="234.2" x2="662.58" y2="249.3" stroke="rgb(109,109,109)" stroke-width="0.6" />
<line x1="663.2" y1="234.2" x2="663.2" y2="249.3" stroke="rgb(191,191,191)" stroke-width="0.6" />
<line x1="663.82" y1="234.2" x2="663.82" y2="249.3" stroke="rgb(174,174,174)" stroke-width="0.6" />
<line x1="665.06" y1="234.2" x2="665.06" y2="249.3" stroke="rgb(182,182,182)" stroke-width="0.6" />
<line x1="665.68" y1="234.2" x2="665.68" y2="249.3" stroke="rgb(115,115,115)" stroke-width="0.6" />
<line x1="666.3" y1="234.2" x2="666.3" y2="249.3" stroke="rgb(104,104,104)" stroke-width="0.6" />
<line x1="667.54" y1="234.2" x2="667.54" y2="249.3" stroke="rgb(116,116,116)" stroke-width="0.6" />
<line x1="668.16" y1="234.2" x2="668.16" y2="249.3" stroke="rgb(166,166,166)" stroke-width="0.6" />
<line x1="668.78" y1="234.2" x2="668.78" y2="249.3" stroke="rgb(166,166,166)" stroke-width="0.6" />
<line x1="671.88" y1="234.2" x2="671.88" y2="249.3" stroke="rgb(150,150,150)" stroke-width="0.6" />
<line x1="672.5" y1="234.2" x2="672.5" y2="249.3" stroke="rgb(103,103,103)" stroke-width="0.6" />
<line x1="673.12" y1="234.2" x2="673.12" y2="249.3" stroke="rgb(174,174,174)" stroke-width="0.6" />
<line x1="673.74" y1="234.2" x2="673.74" y2="249.3" stroke="rgb(129,129,129)" stroke-width="0.6" />
<line x1="674.36" y1="234.2" x2="674.36" y2="249.3" stroke="rgb(173,173,173)" stroke-width="0.6" />
<line x1="674.98" y1="234.2" x2="674.98" y2="249.3" stroke="rgb(164,164,164)" stroke-width="0.6" />
<line x1="676.22" y1="234.2" x2="676.22" y2="249.3" stroke="rgb(182,182,182)" stroke-width="0.6" />
<line x1="677.46" y1="234.2" x2="677.46" y2="249.3" stroke="rgb(197,197,197)" stroke-width="0.6" />
<line x1="678.7" y1="234.2" x2="678.7" y2="249.3" stroke="rgb(148,148,148)" stroke-width="0.6" />
<rect x="574.4" y="249.3" width="21.9" height="4.5" fill="#e63246" />
<rect x="596" y="249.3" width="8.3" height="4.5" fill="#ea5a78" />
<rect x="604" y="249.3" width="22.5" height="4.5" fill="#f0b0e6" />
<rect x="626.2" y="249.3" width="26.1" height="4.5" fill="#c8c0fa" />
<rect x="652" y="249.3" width="10.3" height="4.5" fill="#8c80fa" />
<rect x="662" y="249.3" width="12.3" height="4.5" fill="#5a46fa" />
<rect x="674" y="249.3" width="5.1" height="4.5" fill="#2800ff" />
<path d="M574.2 230.6 L575.2 225 L576.7 218.6 L578.4 212.79 L580.1 206.9 L581.75 202.53 L583.4 198.5 L585.1 196.08 L586.8 193.4 L588.9 191.39 L591 189.6 L593.1 189.04 L595.2 188.5 L597.3 188.09 L599.4 187.7 L601.5 188.51 L603.6 189.6 L605.28 191.19 L606.96 192.49 L608.64 194.02 L610.32 195.43 L612 196.8 L613.68 198.58 L615.36 200.2 L617.04 201.76 L618.72 203.33 L620.4 205.2 L622.08 206.69 L623.76 208.29 L625.44 209.85 L627.12 211.29 L628.8 212.7 L630.46 213.78 L632.12 215.06 L633.78 216.04 L635.44 217.35 L637.1 218.3 L638.78 218.8 L640.46 219.47 L642.14 220.17 L643.82 221.13 L645.5 221.6 L647.18 222.15 L648.86 222.52 L650.54 223.1 L652.22 223.55 L653.9 224.1 L655.6 224.28 L657.3 224.4 L658.97 226.1 L660.63 227.54 L662.3 229 L664 229.44 L665.7 229.8 L667.4 229.9 L669.07 229.53 L670.73 229.58 L672.4 229.2 L675.5 230.2 L678.6 229.6" fill="none" stroke="#44ea22" stroke-width="1.1" stroke-linejoin="round"/>
<rect x="573.7" y="185.5" width="110.9" height="68.3" fill="none" stroke="#3a3a3a" stroke-width="1.2" />
<text x="600.8" y="180.6" font-size="10.5" fill="#111">E2F targets</text>
<text x="577.8" y="219.4" font-size="10.2" fill="#111">NES=2.00</text>
<text x="577.8" y="231" font-size="10.2" fill="#111"><tspan font-style="italic">P</tspan>=0.0</text>
<text x="574.4" y="264.7" font-size="10.2" font-style="italic" fill="#111">cKO</text>
<text x="679.2" y="264.7" font-size="10.2" text-anchor="end" font-style="italic" fill="#111">fl</text>
<rect x="573.7" y="290.5" width="110.9" height="68.5" fill="#fff" />
<line x1="591" y1="290.5" x2="591" y2="340.8" stroke="#eeeeee" stroke-width="0.7" />
<line x1="617" y1="290.5" x2="617" y2="340.8" stroke="#eeeeee" stroke-width="0.7" />
<line x1="643" y1="290.5" x2="643" y2="340.8" stroke="#eeeeee" stroke-width="0.7" />
<line x1="669" y1="290.5" x2="669" y2="340.8" stroke="#eeeeee" stroke-width="0.7" />
<line x1="573.7" y1="294.9" x2="684.6" y2="294.9" stroke="#e4e4e4" stroke-width="0.8" />
<text x="571.2" y="299.2" font-size="10.8" text-anchor="end" fill="#111">0.3</text>
<line x1="573.7" y1="322.5" x2="684.6" y2="322.5" stroke="#e4e4e4" stroke-width="0.8" />
<text x="571.2" y="326.8" font-size="10.8" text-anchor="end" fill="#111">0.0</text>
<line x1="573.7" y1="341.2" x2="684.6" y2="341.2" stroke="#e4e4e4" stroke-width="0.8" />
<text x="571.2" y="345.5" font-size="10.8" text-anchor="end" fill="#111">-0.1</text>
<line x1="576.26" y1="340.8" x2="576.26" y2="355.3" stroke="rgb(45,45,45)" stroke-width="0.6" />
<line x1="576.88" y1="340.8" x2="576.88" y2="355.3" stroke="rgb(40,40,40)" stroke-width="0.6" />
<line x1="577.5" y1="340.8" x2="577.5" y2="355.3" stroke="rgb(14,14,14)" stroke-width="0.6" />
<line x1="578.12" y1="340.8" x2="578.12" y2="355.3" stroke="rgb(16,16,16)" stroke-width="0.6" />
<line x1="578.74" y1="340.8" x2="578.74" y2="355.3" stroke="rgb(1,1,1)" stroke-width="0.6" />
<line x1="579.36" y1="340.8" x2="579.36" y2="355.3" stroke="rgb(54,54,54)" stroke-width="0.6" />
<line x1="579.98" y1="340.8" x2="579.98" y2="355.3" stroke="rgb(39,39,39)" stroke-width="0.6" />
<line x1="580.6" y1="340.8" x2="580.6" y2="355.3" stroke="rgb(27,27,27)" stroke-width="0.6" />
<line x1="581.22" y1="340.8" x2="581.22" y2="355.3" stroke="rgb(59,59,59)" stroke-width="0.6" />
<line x1="581.84" y1="340.8" x2="581.84" y2="355.3" stroke="rgb(50,50,50)" stroke-width="0.6" />
<line x1="582.46" y1="340.8" x2="582.46" y2="355.3" stroke="rgb(74,74,74)" stroke-width="0.6" />
<line x1="583.08" y1="340.8" x2="583.08" y2="355.3" stroke="rgb(58,58,58)" stroke-width="0.6" />
<line x1="583.7" y1="340.8" x2="583.7" y2="355.3" stroke="rgb(43,43,43)" stroke-width="0.6" />
<line x1="584.32" y1="340.8" x2="584.32" y2="355.3" stroke="rgb(24,24,24)" stroke-width="0.6" />
<line x1="584.94" y1="340.8" x2="584.94" y2="355.3" stroke="rgb(36,36,36)" stroke-width="0.6" />
<line x1="585.56" y1="340.8" x2="585.56" y2="355.3" stroke="rgb(45,45,45)" stroke-width="0.6" />
<line x1="586.18" y1="340.8" x2="586.18" y2="355.3" stroke="rgb(49,49,49)" stroke-width="0.6" />
<line x1="586.8" y1="340.8" x2="586.8" y2="355.3" stroke="rgb(13,13,13)" stroke-width="0.6" />
<line x1="587.42" y1="340.8" x2="587.42" y2="355.3" stroke="rgb(62,62,62)" stroke-width="0.6" />
<line x1="588.04" y1="340.8" x2="588.04" y2="355.3" stroke="rgb(8,8,8)" stroke-width="0.6" />
<line x1="588.66" y1="340.8" x2="588.66" y2="355.3" stroke="rgb(2,2,2)" stroke-width="0.6" />
<line x1="589.28" y1="340.8" x2="589.28" y2="355.3" stroke="rgb(43,43,43)" stroke-width="0.6" />
<line x1="589.9" y1="340.8" x2="589.9" y2="355.3" stroke="rgb(25,25,25)" stroke-width="0.6" />
<line x1="590.52" y1="340.8" x2="590.52" y2="355.3" stroke="rgb(22,22,22)" stroke-width="0.6" />
<line x1="591.14" y1="340.8" x2="591.14" y2="355.3" stroke="rgb(59,59,59)" stroke-width="0.6" />
<line x1="591.76" y1="340.8" x2="591.76" y2="355.3" stroke="rgb(19,19,19)" stroke-width="0.6" />
<line x1="592.38" y1="340.8" x2="592.38" y2="355.3" stroke="rgb(59,59,59)" stroke-width="0.6" />
<line x1="593" y1="340.8" x2="593" y2="355.3" stroke="rgb(63,63,63)" stroke-width="0.6" />
<line x1="593.62" y1="340.8" x2="593.62" y2="355.3" stroke="rgb(41,41,41)" stroke-width="0.6" />
<line x1="594.86" y1="340.8" x2="594.86" y2="355.3" stroke="rgb(72,72,72)" stroke-width="0.6" />
<line x1="595.48" y1="340.8" x2="595.48" y2="355.3" stroke="rgb(74,74,74)" stroke-width="0.6" />
<line x1="596" y1="340.8" x2="596" y2="355.3" stroke="rgb(60,60,60)" stroke-width="0.6" />
<line x1="596.62" y1="340.8" x2="596.62" y2="355.3" stroke="rgb(105,105,105)" stroke-width="0.6" />
<line x1="597.24" y1="340.8" x2="597.24" y2="355.3" stroke="rgb(124,124,124)" stroke-width="0.6" />
<line x1="599.1" y1="340.8" x2="599.1" y2="355.3" stroke="rgb(126,126,126)" stroke-width="0.6" />
<line x1="599.72" y1="340.8" x2="599.72" y2="355.3" stroke="rgb(52,52,52)" stroke-width="0.6" />
<line x1="600.96" y1="340.8" x2="600.96" y2="355.3" stroke="rgb(34,34,34)" stroke-width="0.6" />
<line x1="601.58" y1="340.8" x2="601.58" y2="355.3" stroke="rgb(66,66,66)" stroke-width="0.6" />
<line x1="602.2" y1="340.8" x2="602.2" y2="355.3" stroke="rgb(119,119,119)" stroke-width="0.6" />
<line x1="603.44" y1="340.8" x2="603.44" y2="355.3" stroke="rgb(24,24,24)" stroke-width="0.6" />
<line x1="604.06" y1="340.8" x2="604.06" y2="355.3" stroke="rgb(32,32,32)" stroke-width="0.6" />
<line x1="604.68" y1="340.8" x2="604.68" y2="355.3" stroke="rgb(106,106,106)" stroke-width="0.6" />
<line x1="605.3" y1="340.8" x2="605.3" y2="355.3" stroke="rgb(61,61,61)" stroke-width="0.6" />
<line x1="606.54" y1="340.8" x2="606.54" y2="355.3" stroke="rgb(52,52,52)" stroke-width="0.6" />
<line x1="609.02" y1="340.8" x2="609.02" y2="355.3" stroke="rgb(60,60,60)" stroke-width="0.6" />
<line x1="609.64" y1="340.8" x2="609.64" y2="355.3" stroke="rgb(107,107,107)" stroke-width="0.6" />
<line x1="610.26" y1="340.8" x2="610.26" y2="355.3" stroke="rgb(40,40,40)" stroke-width="0.6" />
<line x1="618.36" y1="340.8" x2="618.36" y2="355.3" stroke="rgb(170,170,170)" stroke-width="0.6" />
<line x1="622.7" y1="340.8" x2="622.7" y2="355.3" stroke="rgb(156,156,156)" stroke-width="0.6" />
<line x1="626.2" y1="340.8" x2="626.2" y2="355.3" stroke="rgb(84,84,84)" stroke-width="0.6" />
<line x1="626.82" y1="340.8" x2="626.82" y2="355.3" stroke="rgb(46,46,46)" stroke-width="0.6" />
<line x1="627.44" y1="340.8" x2="627.44" y2="355.3" stroke="rgb(87,87,87)" stroke-width="0.6" />
<line x1="628.06" y1="340.8" x2="628.06" y2="355.3" stroke="rgb(93,93,93)" stroke-width="0.6" />
<line x1="628.68" y1="340.8" x2="628.68" y2="355.3" stroke="rgb(91,91,91)" stroke-width="0.6" />
<line x1="629.3" y1="340.8" x2="629.3" y2="355.3" stroke="rgb(129,129,129)" stroke-width="0.6" />
<line x1="629.92" y1="340.8" x2="629.92" y2="355.3" stroke="rgb(127,127,127)" stroke-width="0.6" />
<line x1="630.54" y1="340.8" x2="630.54" y2="355.3" stroke="rgb(89,89,89)" stroke-width="0.6" />
<line x1="631.16" y1="340.8" x2="631.16" y2="355.3" stroke="rgb(106,106,106)" stroke-width="0.6" />
<line x1="631.78" y1="340.8" x2="631.78" y2="355.3" stroke="rgb(67,67,67)" stroke-width="0.6" />
<line x1="632.4" y1="340.8" x2="632.4" y2="355.3" stroke="rgb(73,73,73)" stroke-width="0.6" />
<line x1="633.02" y1="340.8" x2="633.02" y2="355.3" stroke="rgb(136,136,136)" stroke-width="0.6" />
<line x1="633.64" y1="340.8" x2="633.64" y2="355.3" stroke="rgb(77,77,77)" stroke-width="0.6" />
<line x1="634.26" y1="340.8" x2="634.26" y2="355.3" stroke="rgb(121,121,121)" stroke-width="0.6" />
<line x1="634.88" y1="340.8" x2="634.88" y2="355.3" stroke="rgb(94,94,94)" stroke-width="0.6" />
<line x1="635.5" y1="340.8" x2="635.5" y2="355.3" stroke="rgb(66,66,66)" stroke-width="0.6" />
<line x1="636.12" y1="340.8" x2="636.12" y2="355.3" stroke="rgb(60,60,60)" stroke-width="0.6" />
<line x1="636.74" y1="340.8" x2="636.74" y2="355.3" stroke="rgb(125,125,125)" stroke-width="0.6" />
<line x1="637.36" y1="340.8" x2="637.36" y2="355.3" stroke="rgb(49,49,49)" stroke-width="0.6" />
<line x1="637.98" y1="340.8" x2="637.98" y2="355.3" stroke="rgb(50,50,50)" stroke-width="0.6" />
<line x1="638.6" y1="340.8" x2="638.6" y2="355.3" stroke="rgb(83,83,83)" stroke-width="0.6" />
<line x1="639.22" y1="340.8" x2="639.22" y2="355.3" stroke="rgb(64,64,64)" stroke-width="0.6" />
<line x1="639.84" y1="340.8" x2="639.84" y2="355.3" stroke="rgb(63,63,63)" stroke-width="0.6" />
<line x1="640.62" y1="340.8" x2="640.62" y2="355.3" stroke="rgb(80,80,80)" stroke-width="0.6" />
<line x1="641.86" y1="340.8" x2="641.86" y2="355.3" stroke="rgb(113,113,113)" stroke-width="0.6" />
<line x1="642.48" y1="340.8" x2="642.48" y2="355.3" stroke="rgb(161,161,161)" stroke-width="0.6" />
<line x1="643.1" y1="340.8" x2="643.1" y2="355.3" stroke="rgb(151,151,151)" stroke-width="0.6" />
<line x1="643.72" y1="340.8" x2="643.72" y2="355.3" stroke="rgb(145,145,145)" stroke-width="0.6" />
<line x1="644.34" y1="340.8" x2="644.34" y2="355.3" stroke="rgb(84,84,84)" stroke-width="0.6" />
<line x1="645.58" y1="340.8" x2="645.58" y2="355.3" stroke="rgb(93,93,93)" stroke-width="0.6" />
<line x1="647.44" y1="340.8" x2="647.44" y2="355.3" stroke="rgb(78,78,78)" stroke-width="0.6" />
<line x1="648.06" y1="340.8" x2="648.06" y2="355.3" stroke="rgb(90,90,90)" stroke-width="0.6" />
<line x1="648.68" y1="340.8" x2="648.68" y2="355.3" stroke="rgb(124,124,124)" stroke-width="0.6" />
<line x1="649.3" y1="340.8" x2="649.3" y2="355.3" stroke="rgb(134,134,134)" stroke-width="0.6" />
<line x1="649.92" y1="340.8" x2="649.92" y2="355.3" stroke="rgb(160,160,160)" stroke-width="0.6" />
<line x1="650.54" y1="340.8" x2="650.54" y2="355.3" stroke="rgb(136,136,136)" stroke-width="0.6" />
<line x1="651.16" y1="340.8" x2="651.16" y2="355.3" stroke="rgb(90,90,90)" stroke-width="0.6" />
<line x1="651.78" y1="340.8" x2="651.78" y2="355.3" stroke="rgb(163,163,163)" stroke-width="0.6" />
<line x1="652.4" y1="340.8" x2="652.4" y2="355.3" stroke="rgb(120,120,120)" stroke-width="0.6" />
<line x1="653.02" y1="340.8" x2="653.02" y2="355.3" stroke="rgb(139,139,139)" stroke-width="0.6" />
<line x1="653.64" y1="340.8" x2="653.64" y2="355.3" stroke="rgb(164,164,164)" stroke-width="0.6" />
<line x1="654.26" y1="340.8" x2="654.26" y2="355.3" stroke="rgb(113,113,113)" stroke-width="0.6" />
<line x1="654.88" y1="340.8" x2="654.88" y2="355.3" stroke="rgb(152,152,152)" stroke-width="0.6" />
<line x1="656.12" y1="340.8" x2="656.12" y2="355.3" stroke="rgb(166,166,166)" stroke-width="0.6" />
<line x1="657.62" y1="340.8" x2="657.62" y2="355.3" stroke="rgb(140,140,140)" stroke-width="0.6" />
<line x1="659.48" y1="340.8" x2="659.48" y2="355.3" stroke="rgb(142,142,142)" stroke-width="0.6" />
<line x1="661.34" y1="340.8" x2="661.34" y2="355.3" stroke="rgb(123,123,123)" stroke-width="0.6" />
<line x1="661.96" y1="340.8" x2="661.96" y2="355.3" stroke="rgb(107,107,107)" stroke-width="0.6" />
<line x1="662.58" y1="340.8" x2="662.58" y2="355.3" stroke="rgb(145,145,145)" stroke-width="0.6" />
<line x1="664.44" y1="340.8" x2="664.44" y2="355.3" stroke="rgb(127,127,127)" stroke-width="0.6" />
<line x1="665.06" y1="340.8" x2="665.06" y2="355.3" stroke="rgb(170,170,170)" stroke-width="0.6" />
<line x1="665.68" y1="340.8" x2="665.68" y2="355.3" stroke="rgb(119,119,119)" stroke-width="0.6" />
<line x1="668.16" y1="340.8" x2="668.16" y2="355.3" stroke="rgb(165,165,165)" stroke-width="0.6" />
<line x1="668.78" y1="340.8" x2="668.78" y2="355.3" stroke="rgb(164,164,164)" stroke-width="0.6" />
<line x1="671.26" y1="340.8" x2="671.26" y2="355.3" stroke="rgb(108,108,108)" stroke-width="0.6" />
<line x1="672.5" y1="340.8" x2="672.5" y2="355.3" stroke="rgb(141,141,141)" stroke-width="0.6" />
<line x1="673.12" y1="340.8" x2="673.12" y2="355.3" stroke="rgb(105,105,105)" stroke-width="0.6" />
<line x1="673.74" y1="340.8" x2="673.74" y2="355.3" stroke="rgb(201,201,201)" stroke-width="0.6" />
<line x1="676.22" y1="340.8" x2="676.22" y2="355.3" stroke="rgb(119,119,119)" stroke-width="0.6" />
<line x1="677.46" y1="340.8" x2="677.46" y2="355.3" stroke="rgb(161,161,161)" stroke-width="0.6" />
<line x1="678.08" y1="340.8" x2="678.08" y2="355.3" stroke="rgb(157,157,157)" stroke-width="0.6" />
<line x1="678.7" y1="340.8" x2="678.7" y2="355.3" stroke="rgb(108,108,108)" stroke-width="0.6" />
<rect x="574.4" y="355.3" width="21.9" height="3.7" fill="#e63246" />
<rect x="596" y="355.3" width="8.3" height="3.7" fill="#ea5a78" />
<rect x="604" y="355.3" width="22.5" height="3.7" fill="#f0b0e6" />
<rect x="626.2" y="355.3" width="26.1" height="3.7" fill="#c8c0fa" />
<rect x="652" y="355.3" width="10.3" height="3.7" fill="#8c80fa" />
<rect x="662" y="355.3" width="12.3" height="3.7" fill="#5a46fa" />
<rect x="674" y="355.3" width="5.1" height="3.7" fill="#2800ff" />
<path d="M574.4 322.6 L575.4 315 L577.2 306 L579 302.18 L580.8 298 L582.4 296.97 L584 295.6 L586.15 294.69 L588.3 293.8 L590.65 293.56 L593 293.2 L594.77 292.98 L596.53 293.05 L598.3 293 L601 294 L602.67 295.2 L604.33 296.14 L606 297.5 L607.8 299.01 L609.6 300.87 L611.4 302.41 L613.2 303.76 L615 305.5 L616.67 306.69 L618.33 308.21 L620 309.35 L621.67 310.63 L623.33 312.32 L625 313.5 L626.6 314.59 L628.2 316.09 L629.8 317.25 L631.4 318.22 L633 319.5 L634.83 320.75 L636.67 322.04 L638.5 323.2 L640.38 324.33 L642.25 325.18 L644.12 326.24 L646 327 L647.9 327.84 L649.8 328.79 L651.7 329.64 L653.6 330.7 L655.8 332.18 L658 334 L659.87 334.64 L661.73 335 L663.6 335.8 L665.8 335.14 L668 334.6 L669.9 334.26 L671.8 333.66 L673.7 333.2 L676.6 331 L677.2 322 L678.8 322.6" fill="none" stroke="#44ea22" stroke-width="1.1" stroke-linejoin="round"/>
<rect x="573.7" y="290.5" width="110.9" height="68.5" fill="none" stroke="#3a3a3a" stroke-width="1.2" />
<text x="581.2" y="283.6" font-size="10.5" fill="#111">ER stress response</text>
<text x="577.8" y="326.6" font-size="10.2" fill="#111">NES=1.37</text>
<text x="577.8" y="337.6" font-size="10.2" fill="#111"><tspan font-style="italic">P</tspan>=0.0</text>
<text x="574.4" y="369.3" font-size="10.2" font-style="italic" fill="#111">cKO</text>
<text x="679.2" y="369.3" font-size="10.2" text-anchor="end" font-style="italic" fill="#111">fl</text>
<text x="5.2" y="402.9" font-size="16.4" font-weight="bold" fill="#000">F</text>
<text x="281.8" y="402.9" font-size="16.4" font-weight="bold" fill="#000">G</text>
<text x="561.2" y="402.9" font-size="16.4" font-weight="bold" fill="#000">H</text>
<line x1="41.3" y1="406.4" x2="53.8" y2="406.4" stroke="#000" stroke-width="0.9" />
<text x="58.3" y="410" font-size="10.5" fill="#111">FMO</text>
<line x1="41.3" y1="417.4" x2="53.8" y2="417.4" stroke="#2400ff" stroke-width="0.9" />
<text x="58.3" y="421" font-size="10.5" font-style="italic" fill="#111">Emp1<tspan dy="-3.78" font-size="6.3">fl/fl</tspan></text>
<line x1="41.3" y1="428.3" x2="53.8" y2="428.3" stroke="#ff2010" stroke-width="0.9" />
<text x="58.3" y="431.9" font-size="10.5" font-style="italic" fill="#111">Emp1-cKO</text>
<text x="78.5" y="446.8" font-size="10.5" text-anchor="middle" fill="#111">HSCs</text>
<text x="31.8" y="461.2" font-size="10.5" fill="#111">(CD48<tspan dy="-3.6" font-size="7">-</tspan><tspan dy="3.6">CD150</tspan><tspan dy="-3.6" font-size="7">+</tspan><tspan dy="3.6">LSK)</tspan></text>
<rect x="38.3" y="465" width="78.7" height="77" fill="#fff" stroke="#000" stroke-width="0.95" />
<line x1="38.9" y1="542" x2="38.9" y2="544" stroke="#000" stroke-width="0.5" />
<line x1="43.17" y1="542" x2="43.17" y2="543" stroke="#000" stroke-width="0.5" />
<line x1="45.67" y1="542" x2="45.67" y2="543" stroke="#000" stroke-width="0.5" />
<line x1="47.44" y1="542" x2="47.44" y2="543" stroke="#000" stroke-width="0.5" />
<line x1="48.81" y1="542" x2="48.81" y2="543" stroke="#000" stroke-width="0.5" />
<line x1="49.93" y1="542" x2="49.93" y2="543" stroke="#000" stroke-width="0.5" />
<line x1="50.88" y1="542" x2="50.88" y2="543" stroke="#000" stroke-width="0.5" />
<line x1="51.71" y1="542" x2="51.71" y2="543" stroke="#000" stroke-width="0.5" />
<line x1="52.43" y1="542" x2="52.43" y2="543" stroke="#000" stroke-width="0.5" />
<line x1="53.08" y1="542" x2="53.08" y2="544" stroke="#000" stroke-width="0.5" />
<line x1="57.35" y1="542" x2="57.35" y2="543" stroke="#000" stroke-width="0.5" />
<line x1="59.85" y1="542" x2="59.85" y2="543" stroke="#000" stroke-width="0.5" />
<line x1="61.62" y1="542" x2="61.62" y2="543" stroke="#000" stroke-width="0.5" />
<line x1="62.99" y1="542" x2="62.99" y2="543" stroke="#000" stroke-width="0.5" />
<line x1="64.11" y1="542" x2="64.11" y2="543" stroke="#000" stroke-width="0.5" />
<line x1="65.06" y1="542" x2="65.06" y2="543" stroke="#000" stroke-width="0.5" />
<line x1="65.89" y1="542" x2="65.89" y2="543" stroke="#000" stroke-width="0.5" />
<line x1="66.61" y1="542" x2="66.61" y2="543" stroke="#000" stroke-width="0.5" />
<line x1="67.26" y1="542" x2="67.26" y2="544" stroke="#000" stroke-width="0.5" />
<line x1="71.53" y1="542" x2="71.53" y2="543" stroke="#000" stroke-width="0.5" />
<line x1="74.03" y1="542" x2="74.03" y2="543" stroke="#000" stroke-width="0.5" />
<line x1="75.8" y1="542" x2="75.8" y2="543" stroke="#000" stroke-width="0.5" />
<line x1="77.17" y1="542" x2="77.17" y2="543" stroke="#000" stroke-width="0.5" />
<line x1="78.29" y1="542" x2="78.29" y2="543" stroke="#000" stroke-width="0.5" />
<line x1="79.24" y1="542" x2="79.24" y2="543" stroke="#000" stroke-width="0.5" />
<line x1="80.07" y1="542" x2="80.07" y2="543" stroke="#000" stroke-width="0.5" />
<line x1="80.79" y1="542" x2="80.79" y2="543" stroke="#000" stroke-width="0.5" />
<line x1="81.44" y1="542" x2="81.44" y2="544" stroke="#000" stroke-width="0.5" />
<line x1="85.71" y1="542" x2="85.71" y2="543" stroke="#000" stroke-width="0.5" />
<line x1="88.21" y1="542" x2="88.21" y2="543" stroke="#000" stroke-width="0.5" />
<line x1="89.98" y1="542" x2="89.98" y2="543" stroke="#000" stroke-width="0.5" />
<line x1="91.35" y1="542" x2="91.35" y2="543" stroke="#000" stroke-width="0.5" />
<line x1="92.47" y1="542" x2="92.47" y2="543" stroke="#000" stroke-width="0.5" />
<line x1="93.42" y1="542" x2="93.42" y2="543" stroke="#000" stroke-width="0.5" />
<line x1="94.25" y1="542" x2="94.25" y2="543" stroke="#000" stroke-width="0.5" />
<line x1="94.97" y1="542" x2="94.97" y2="543" stroke="#000" stroke-width="0.5" />
<line x1="95.62" y1="542" x2="95.62" y2="544" stroke="#000" stroke-width="0.5" />
<line x1="99.89" y1="542" x2="99.89" y2="543" stroke="#000" stroke-width="0.5" />
<line x1="102.39" y1="542" x2="102.39" y2="543" stroke="#000" stroke-width="0.5" />
<line x1="104.16" y1="542" x2="104.16" y2="543" stroke="#000" stroke-width="0.5" />
<line x1="105.53" y1="542" x2="105.53" y2="543" stroke="#000" stroke-width="0.5" />
<line x1="106.66" y1="542" x2="106.66" y2="543" stroke="#000" stroke-width="0.5" />
<line x1="107.6" y1="542" x2="107.6" y2="543" stroke="#000" stroke-width="0.5" />
<line x1="108.43" y1="542" x2="108.43" y2="543" stroke="#000" stroke-width="0.5" />
<line x1="109.15" y1="542" x2="109.15" y2="543" stroke="#000" stroke-width="0.5" />
<line x1="109.8" y1="542" x2="109.8" y2="544" stroke="#000" stroke-width="0.5" />
<line x1="114.07" y1="542" x2="114.07" y2="543" stroke="#000" stroke-width="0.5" />
<line x1="38.3" y1="538.3" x2="39.3" y2="538.3" stroke="#000" stroke-width="0.4" />
<line x1="38.3" y1="534.6" x2="39.3" y2="534.6" stroke="#000" stroke-width="0.4" />
<line x1="38.3" y1="530.9" x2="39.3" y2="530.9" stroke="#000" stroke-width="0.4" />
<line x1="38.3" y1="527.2" x2="39.3" y2="527.2" stroke="#000" stroke-width="0.4" />
<line x1="38.3" y1="523.5" x2="40.9" y2="523.5" stroke="#000" stroke-width="0.7" />
<line x1="38.3" y1="519.8" x2="39.3" y2="519.8" stroke="#000" stroke-width="0.4" />
<line x1="38.3" y1="516.1" x2="39.3" y2="516.1" stroke="#000" stroke-width="0.4" />
<line x1="38.3" y1="512.4" x2="39.3" y2="512.4" stroke="#000" stroke-width="0.4" />
<line x1="38.3" y1="508.7" x2="39.3" y2="508.7" stroke="#000" stroke-width="0.4" />
<line x1="38.3" y1="505" x2="40.9" y2="505" stroke="#000" stroke-width="0.7" />
<line x1="38.3" y1="501.3" x2="39.3" y2="501.3" stroke="#000" stroke-width="0.4" />
<line x1="38.3" y1="497.6" x2="39.3" y2="497.6" stroke="#000" stroke-width="0.4" />
<line x1="38.3" y1="493.9" x2="39.3" y2="493.9" stroke="#000" stroke-width="0.4" />
<line x1="38.3" y1="490.2" x2="39.3" y2="490.2" stroke="#000" stroke-width="0.4" />
<line x1="38.3" y1="486.5" x2="40.9" y2="486.5" stroke="#000" stroke-width="0.7" />
<line x1="38.3" y1="482.8" x2="39.3" y2="482.8" stroke="#000" stroke-width="0.4" />
<line x1="38.3" y1="479.1" x2="39.3" y2="479.1" stroke="#000" stroke-width="0.4" />
<line x1="38.3" y1="475.4" x2="39.3" y2="475.4" stroke="#000" stroke-width="0.4" />
<line x1="38.3" y1="471.7" x2="39.3" y2="471.7" stroke="#000" stroke-width="0.4" />
<line x1="38.3" y1="468" x2="40.9" y2="468" stroke="#000" stroke-width="0.7" />
<path d="M46.9 541.75 L49.09 539.56 L50.55 532.99 L52.01 515.47 L53.18 497.96 L54.2 491.82 L55.22 497.96 L56.39 515.47 L57.85 530.07 L59.6 538.1 L62.23 541.02 L66.61 541.75" fill="none" stroke="#000" stroke-width="1" stroke-linejoin="round"/>
<path d="M67.34 541.75 L70.99 540.58 L73.18 536.64 L74.93 524.23 L76.39 506.72 L77.55 493.58 L78.58 489.93 L79.6 493.58 L80.47 508.18 L81.64 518.39 L83.39 524.23 L85.58 531.53 L88.07 538.1 L90.69 541.02 L92.88 541.75" fill="none" stroke="#2400ff" stroke-width="1" stroke-linejoin="round"/>
<path d="M73.18 541.75 L76.82 540.58 L79.74 535.91 L82.23 525.69 L84.56 511.09 L86.31 497.96 L87.48 491.09 L88.36 497.96 L89.23 518.39 L90.26 532.99 L91.42 539.56 L93.61 541.75" fill="none" stroke="#ff2010" stroke-width="1" stroke-linejoin="round"/>
<text x="35" y="525.6" font-size="10.5" fill="#111" transform="rotate(-90 35 525.6)">% of Max</text>
<path d="M32.6 531.4 L32.6 549.6 L52.8 549.6" fill="none" stroke="#000" stroke-width="0.9" />
<path d="M32.6 529.4 l-2 4.2 l4 0 z" fill="#000" stroke="none" stroke-width="0" />
<path d="M54.8 549.6 l-4.2 -2 l0 4 z" fill="#000" stroke="none" stroke-width="0" />
<text x="56.2" y="554.4" font-size="10.5" fill="#111">Proteostat</text>
<rect x="183.8" y="405.4" width="7.3" height="7.3" fill="#2400ff" />
<text x="194.6" y="413" font-size="10.7" font-style="italic" fill="#111">Emp1<tspan dy="-3.78" font-size="6.3">fl/fl</tspan></text>
<rect x="183.8" y="416.2" width="7.3" height="7.3" fill="#ff2010" />
<text x="194.6" y="423.8" font-size="10.7" font-style="italic" fill="#111">Emp1-cKO</text>
<text x="145.6" y="531.4" font-size="10.5" fill="#111" transform="rotate(-90 145.6 531.4)">Proteostat MFI</text>
<text x="158.8" y="546.4" font-size="10.5" fill="#111" transform="rotate(-90 158.8 546.4)">(normalized to <tspan font-style="italic">Emp1</tspan><tspan dy="-3.8" font-size="5.8">fl/fl</tspan><tspan dy="3.8">)</tspan></text>
<rect x="192.5" y="495.4" width="17.5" height="45.9" fill="#2400ff" />
<rect x="218.8" y="464.65" width="17.5" height="76.65" fill="#ff2010" />
<line x1="201.25" y1="493.33" x2="201.25" y2="497.47" stroke="#000" stroke-width="0.95" />
<line x1="196.35" y1="493.33" x2="206.15" y2="493.33" stroke="#000" stroke-width="0.95" />
<line x1="196.35" y1="497.47" x2="206.15" y2="497.47" stroke="#000" stroke-width="0.95" />
<circle cx="193.85" cy="496.78" r="1.7" fill="#000" />
<circle cx="199.05" cy="494.02" r="1.7" fill="#000" />
<circle cx="200.65" cy="495.86" r="1.7" fill="#000" />
<circle cx="205.85" cy="493.56" r="1.7" fill="#000" />
<circle cx="207.45" cy="496.32" r="1.7" fill="#000" />
<line x1="227.55" y1="460.75" x2="227.55" y2="468.55" stroke="#000" stroke-width="0.95" />
<line x1="222.65" y1="460.75" x2="232.45" y2="460.75" stroke="#000" stroke-width="0.95" />
<line x1="222.65" y1="468.55" x2="232.45" y2="468.55" stroke="#000" stroke-width="0.95" />
<circle cx="223.75" cy="469.24" r="1.7" fill="#000" />
<circle cx="227.15" cy="463.27" r="1.7" fill="#000" />
<circle cx="226.95" cy="466.94" r="1.7" fill="#000" />
<circle cx="230.35" cy="460.52" r="1.7" fill="#000" />
<circle cx="230.15" cy="466.02" r="1.7" fill="#000" />
<line x1="183" y1="448.93" x2="183" y2="541.88" stroke="#000" stroke-width="1.15" />
<line x1="182.43" y1="541.3" x2="246.4" y2="541.3" stroke="#000" stroke-width="1.15" />
<line x1="179.3" y1="541.3" x2="183" y2="541.3" stroke="#000" stroke-width="1.15" />
<text x="178.1" y="545.19" font-size="10.8" text-anchor="end" fill="#111">0.0</text>
<line x1="179.3" y1="518.35" x2="183" y2="518.35" stroke="#000" stroke-width="1.15" />
<text x="178.1" y="522.24" font-size="10.8" text-anchor="end" fill="#111">0.5</text>
<line x1="179.3" y1="495.4" x2="183" y2="495.4" stroke="#000" stroke-width="1.15" />
<text x="178.1" y="499.29" font-size="10.8" text-anchor="end" fill="#111">1.0</text>
<line x1="179.3" y1="472.45" x2="183" y2="472.45" stroke="#000" stroke-width="1.15" />
<text x="178.1" y="476.34" font-size="10.8" text-anchor="end" fill="#111">1.5</text>
<line x1="179.3" y1="449.5" x2="183" y2="449.5" stroke="#000" stroke-width="1.15" />
<text x="178.1" y="453.39" font-size="10.8" text-anchor="end" fill="#111">2.0</text>
<text x="210.4" y="553.8" font-size="10.5" text-anchor="middle" fill="#111">HSCs</text>
<text x="196" y="450.4" font-size="7.6" fill="#000"><tspan font-style="italic">P</tspan>&lt;0.0001</text>
<line x1="205.1" y1="452.8" x2="224" y2="452.8" stroke="#000" stroke-width="0.9" />
<rect x="329.3" y="404.3" width="7.5" height="7.5" fill="#2400ff" />
<text x="340" y="412.1" font-size="10.7" font-style="italic" fill="#111">Emp1<tspan dy="-3.78" font-size="6.3">fl/fl</tspan></text>
<rect x="329.3" y="415" width="7.5" height="7.5" fill="#ff2010" />
<text x="340" y="422.8" font-size="10.7" font-style="italic" fill="#111">Emp1-cKO</text>
<text x="309.9" y="558.2" font-size="10.8" fill="#111" transform="rotate(-90 309.9 558.2)">MFI (normalized to <tspan font-style="italic">Emp1</tspan><tspan dy="-3.8" font-size="5.8">fl/fl</tspan><tspan dy="3.8">)</tspan></text>
<rect x="335.5" y="509.33" width="14" height="30.67" fill="#2400ff" />
<rect x="350" y="477.75" width="13.3" height="62.25" fill="#ff2010" />
<rect x="377" y="509.33" width="13.8" height="30.67" fill="#2400ff" />
<rect x="391.3" y="469.77" width="13.2" height="70.23" fill="#ff2010" />
<rect x="418.3" y="509.33" width="13.7" height="30.67" fill="#2400ff" />
<rect x="432.5" y="490.32" width="13.5" height="49.68" fill="#ff2010" />
<rect x="459.3" y="508.72" width="13.7" height="31.28" fill="#2400ff" />
<rect x="473.5" y="493.69" width="13.5" height="46.31" fill="#ff2010" />
<rect x="500.5" y="508.11" width="13.8" height="31.89" fill="#2400ff" />
<rect x="514.8" y="457.81" width="13.5" height="82.19" fill="#ff2010" />
<line x1="342.5" y1="508.41" x2="342.5" y2="510.25" stroke="#000" stroke-width="0.95" />
<line x1="338.58" y1="508.41" x2="346.42" y2="508.41" stroke="#000" stroke-width="0.95" />
<line x1="338.58" y1="510.25" x2="346.42" y2="510.25" stroke="#000" stroke-width="0.95" />
<circle cx="336.7" cy="510.25" r="1.7" fill="#000" />
<circle cx="341.1" cy="508.72" r="1.7" fill="#000" />
<circle cx="341.9" cy="509.64" r="1.7" fill="#000" />
<circle cx="346.3" cy="508.41" r="1.7" fill="#000" />
<circle cx="347.1" cy="510.25" r="1.7" fill="#000" />
<line x1="356.65" y1="472.84" x2="356.65" y2="482.65" stroke="#000" stroke-width="0.95" />
<line x1="352.93" y1="472.84" x2="360.37" y2="472.84" stroke="#000" stroke-width="0.95" />
<line x1="352.93" y1="482.65" x2="360.37" y2="482.65" stroke="#000" stroke-width="0.95" />
<circle cx="353.45" cy="473.15" r="1.7" fill="#000" />
<circle cx="356.55" cy="483.27" r="1.7" fill="#000" />
<circle cx="356.05" cy="474.99" r="1.7" fill="#000" />
<circle cx="359.15" cy="480.2" r="1.7" fill="#000" />
<circle cx="358.65" cy="473.76" r="1.7" fill="#000" />
<line x1="383.9" y1="506.88" x2="383.9" y2="511.79" stroke="#000" stroke-width="0.95" />
<line x1="380.04" y1="506.88" x2="387.76" y2="506.88" stroke="#000" stroke-width="0.95" />
<line x1="380.04" y1="511.79" x2="387.76" y2="511.79" stroke="#000" stroke-width="0.95" />
<circle cx="378.1" cy="505.65" r="1.7" fill="#000" />
<circle cx="382.5" cy="511.48" r="1.7" fill="#000" />
<circle cx="383.3" cy="508.41" r="1.7" fill="#000" />
<circle cx="387.7" cy="510.87" r="1.7" fill="#000" />
<circle cx="388.5" cy="508.11" r="1.7" fill="#000" />
<line x1="397.9" y1="467.93" x2="397.9" y2="471.61" stroke="#000" stroke-width="0.95" />
<line x1="394.2" y1="467.93" x2="401.6" y2="467.93" stroke="#000" stroke-width="0.95" />
<line x1="394.2" y1="471.61" x2="401.6" y2="471.61" stroke="#000" stroke-width="0.95" />
<circle cx="392.3" cy="467.63" r="1.7" fill="#000" />
<circle cx="396.6" cy="471.31" r="1.7" fill="#000" />
<circle cx="397.3" cy="470.08" r="1.7" fill="#000" />
<circle cx="401.6" cy="468.55" r="1.7" fill="#000" />
<circle cx="402.3" cy="471" r="1.7" fill="#000" />
<line x1="425.15" y1="507.95" x2="425.15" y2="510.71" stroke="#000" stroke-width="0.95" />
<line x1="421.31" y1="507.95" x2="428.99" y2="507.95" stroke="#000" stroke-width="0.95" />
<line x1="421.31" y1="510.71" x2="428.99" y2="510.71" stroke="#000" stroke-width="0.95" />
<circle cx="419.35" cy="510.56" r="1.7" fill="#000" />
<circle cx="423.75" cy="509.33" r="1.7" fill="#000" />
<circle cx="424.55" cy="507.19" r="1.7" fill="#000" />
<circle cx="428.95" cy="509.95" r="1.7" fill="#000" />
<circle cx="429.75" cy="510.25" r="1.7" fill="#000" />
<line x1="439.25" y1="488.17" x2="439.25" y2="492.47" stroke="#000" stroke-width="0.95" />
<line x1="435.47" y1="488.17" x2="443.03" y2="488.17" stroke="#000" stroke-width="0.95" />
<line x1="435.47" y1="492.47" x2="443.03" y2="492.47" stroke="#000" stroke-width="0.95" />
<circle cx="433.45" cy="492.47" r="1.7" fill="#000" />
<circle cx="437.85" cy="489.09" r="1.7" fill="#000" />
<circle cx="438.65" cy="491.55" r="1.7" fill="#000" />
<circle cx="443.05" cy="490.32" r="1.7" fill="#000" />
<circle cx="443.85" cy="487.25" r="1.7" fill="#000" />
<line x1="466.15" y1="506.42" x2="466.15" y2="511.02" stroke="#000" stroke-width="0.95" />
<line x1="462.31" y1="506.42" x2="469.99" y2="506.42" stroke="#000" stroke-width="0.95" />
<line x1="462.31" y1="511.02" x2="469.99" y2="511.02" stroke="#000" stroke-width="0.95" />
<circle cx="460.35" cy="506.88" r="1.7" fill="#000" />
<circle cx="464.75" cy="510.87" r="1.7" fill="#000" />
<circle cx="465.55" cy="509.95" r="1.7" fill="#000" />
<circle cx="469.95" cy="505.65" r="1.7" fill="#000" />
<circle cx="470.75" cy="510.25" r="1.7" fill="#000" />
<line x1="480.25" y1="491.09" x2="480.25" y2="496.3" stroke="#000" stroke-width="0.95" />
<line x1="476.47" y1="491.09" x2="484.03" y2="491.09" stroke="#000" stroke-width="0.95" />
<line x1="476.47" y1="496.3" x2="484.03" y2="496.3" stroke="#000" stroke-width="0.95" />
<circle cx="474.45" cy="492.16" r="1.7" fill="#000" />
<circle cx="478.85" cy="494" r="1.7" fill="#000" />
<circle cx="479.65" cy="497.68" r="1.7" fill="#000" />
<circle cx="484.05" cy="495.23" r="1.7" fill="#000" />
<circle cx="484.85" cy="490.93" r="1.7" fill="#000" />
<line x1="507.4" y1="506.57" x2="507.4" y2="509.64" stroke="#000" stroke-width="0.95" />
<line x1="503.54" y1="506.57" x2="511.26" y2="506.57" stroke="#000" stroke-width="0.95" />
<line x1="503.54" y1="509.64" x2="511.26" y2="509.64" stroke="#000" stroke-width="0.95" />
<circle cx="502" cy="506.27" r="1.7" fill="#000" />
<circle cx="506.2" cy="509.33" r="1.7" fill="#000" />
<circle cx="506.8" cy="508.41" r="1.7" fill="#000" />
<circle cx="511" cy="506.27" r="1.7" fill="#000" />
<circle cx="511.6" cy="508.72" r="1.7" fill="#000" />
<line x1="521.55" y1="455.51" x2="521.55" y2="460.11" stroke="#000" stroke-width="0.95" />
<line x1="517.77" y1="455.51" x2="525.33" y2="455.51" stroke="#000" stroke-width="0.95" />
<line x1="517.77" y1="460.11" x2="525.33" y2="460.11" stroke="#000" stroke-width="0.95" />
<circle cx="516.15" cy="460.88" r="1.7" fill="#000" />
<circle cx="520.35" cy="453.52" r="1.7" fill="#000" />
<circle cx="520.95" cy="459.04" r="1.7" fill="#000" />
<circle cx="525.15" cy="455.97" r="1.7" fill="#000" />
<circle cx="525.75" cy="460.27" r="1.7" fill="#000" />
<line x1="329.3" y1="447.43" x2="329.3" y2="540.58" stroke="#000" stroke-width="1.15" />
<line x1="328.73" y1="540" x2="533.8" y2="540" stroke="#000" stroke-width="1.15" />
<line x1="325.6" y1="540" x2="329.3" y2="540" stroke="#000" stroke-width="1.15" />
<text x="324" y="543.78" font-size="10.5" text-anchor="end" fill="#111">0</text>
<line x1="325.6" y1="509.33" x2="329.3" y2="509.33" stroke="#000" stroke-width="1.15" />
<text x="324" y="513.11" font-size="10.5" text-anchor="end" fill="#111">1</text>
<line x1="325.6" y1="478.67" x2="329.3" y2="478.67" stroke="#000" stroke-width="1.15" />
<text x="324" y="482.45" font-size="10.5" text-anchor="end" fill="#111">2</text>
<line x1="325.6" y1="448" x2="329.3" y2="448" stroke="#000" stroke-width="1.15" />
<text x="324" y="451.78" font-size="10.5" text-anchor="end" fill="#111">3</text>
<text x="349.4" y="552.9" font-size="10.3" text-anchor="middle" fill="#111">GRP78</text>
<text x="390.8" y="552.9" font-size="10.3" text-anchor="middle" fill="#111">p-PERK</text>
<text x="432" y="552.9" font-size="10.3" text-anchor="middle" fill="#111">p-eIF2α</text>
<text x="472.6" y="552.9" font-size="10.3" text-anchor="middle" fill="#111">ATF4</text>
<text x="513.8" y="552.9" font-size="10.3" text-anchor="middle" fill="#111">p-IRE1</text>
<line x1="339.3" y1="557" x2="527.6" y2="557" stroke="#000" stroke-width="0.9" />
<text x="440.2" y="567.6" font-size="10.5" text-anchor="middle" fill="#111">HSCs</text>
<text x="334.2" y="441.4" font-size="7.6" fill="#000"><tspan font-style="italic">P</tspan>&lt;0.0001</text>
<line x1="341.2" y1="444" x2="360" y2="444" stroke="#000" stroke-width="0.9" />
<text x="375.1" y="457" font-size="7.6" fill="#000"><tspan font-style="italic">P</tspan>&lt;0.0001</text>
<line x1="381.7" y1="460" x2="400.5" y2="460" stroke="#000" stroke-width="0.9" />
<text x="420.6" y="441.4" font-size="7.6" fill="#000"><tspan font-style="italic">P</tspan>&lt;0.0001</text>
<line x1="426.3" y1="444" x2="444.3" y2="444" stroke="#000" stroke-width="0.9" />
<text x="460.6" y="457.2" font-size="7.6" fill="#000"><tspan font-style="italic">P</tspan>&lt;0.0001</text>
<line x1="468" y1="460.2" x2="487" y2="460.2" stroke="#000" stroke-width="0.9" />
<text x="497.3" y="441.4" font-size="7.6" fill="#000"><tspan font-style="italic">P</tspan>&lt;0.0001</text>
<line x1="505" y1="444" x2="524.5" y2="444" stroke="#000" stroke-width="0.9" />
<rect x="607.8" y="405" width="7.5" height="7.5" fill="#2400ff" />
<text x="618.5" y="412.8" font-size="10.7" font-style="italic" fill="#111">Emp1<tspan dy="-3.78" font-size="6.3">fl/fl</tspan></text>
<rect x="607.8" y="415.6" width="7.5" height="7.5" fill="#ff2010" />
<text x="618.5" y="423.4" font-size="10.7" font-style="italic" fill="#111">Emp1-cKO</text>
<text x="586.2" y="552" font-size="10.5" fill="#111" transform="rotate(-90 586.2 552)"><tspan font-style="italic">Chop</tspan> relative mRNA level</text>
<rect x="615.3" y="517.08" width="18.2" height="22.92" fill="#2400ff" />
<rect x="642" y="492.55" width="18.1" height="47.45" fill="#ff2010" />
<line x1="624.4" y1="513.41" x2="624.4" y2="520.74" stroke="#000" stroke-width="0.95" />
<line x1="619.3" y1="513.41" x2="629.5" y2="513.41" stroke="#000" stroke-width="0.95" />
<line x1="619.3" y1="520.74" x2="629.5" y2="520.74" stroke="#000" stroke-width="0.95" />
<circle cx="624.4" cy="512.03" r="1.7" fill="#000" />
<circle cx="619.2" cy="518.22" r="1.7" fill="#000" />
<circle cx="622" cy="517.08" r="1.7" fill="#000" />
<circle cx="627.2" cy="518.22" r="1.7" fill="#000" />
<circle cx="631" cy="517.53" r="1.7" fill="#000" />
<line x1="651.05" y1="476.73" x2="651.05" y2="508.36" stroke="#000" stroke-width="0.95" />
<line x1="645.98" y1="476.73" x2="656.12" y2="476.73" stroke="#000" stroke-width="0.95" />
<line x1="645.98" y1="508.36" x2="656.12" y2="508.36" stroke="#000" stroke-width="0.95" />
<circle cx="651.05" cy="469.16" r="1.7" fill="#000" />
<circle cx="645.65" cy="492.55" r="1.7" fill="#000" />
<circle cx="651.15" cy="494.38" r="1.7" fill="#000" />
<circle cx="656.85" cy="494.38" r="1.7" fill="#000" />
<circle cx="651.05" cy="512.49" r="1.7" fill="#000" />
<line x1="607" y1="447.73" x2="607" y2="540.58" stroke="#000" stroke-width="1.15" />
<line x1="606.42" y1="540" x2="668.4" y2="540" stroke="#000" stroke-width="1.15" />
<line x1="603.3" y1="540" x2="607" y2="540" stroke="#000" stroke-width="1.15" />
<text x="602.1" y="543.78" font-size="10.5" text-anchor="end" fill="#111">0</text>
<line x1="603.3" y1="517.08" x2="607" y2="517.08" stroke="#000" stroke-width="1.15" />
<text x="602.1" y="520.86" font-size="10.5" text-anchor="end" fill="#111">1</text>
<line x1="603.3" y1="494.15" x2="607" y2="494.15" stroke="#000" stroke-width="1.15" />
<text x="602.1" y="497.93" font-size="10.5" text-anchor="end" fill="#111">2</text>
<line x1="603.3" y1="471.23" x2="607" y2="471.23" stroke="#000" stroke-width="1.15" />
<text x="602.1" y="475" font-size="10.5" text-anchor="end" fill="#111">3</text>
<line x1="603.3" y1="448.3" x2="607" y2="448.3" stroke="#000" stroke-width="1.15" />
<text x="602.1" y="452.08" font-size="10.5" text-anchor="end" fill="#111">4</text>
<text x="641" y="554.6" font-size="10.5" text-anchor="middle" fill="#111">HSCs</text>
<text x="619.1" y="454.8" font-size="7.6" fill="#000"><tspan font-style="italic">P</tspan>=0.0096</text>
<line x1="628.4" y1="457.3" x2="645.3" y2="457.3" stroke="#000" stroke-width="0.9" />
<text x="2.8" y="583" font-size="16.4" font-weight="bold" fill="#000">I</text>
<text x="263.9" y="607.6" font-size="16.4" font-weight="bold" fill="#000">J</text>
<text x="556.9" y="606.8" font-size="16.4" font-weight="bold" fill="#000">K</text>
<text x="127.4" y="582.4" font-size="10.5" text-anchor="middle" font-weight="bold" fill="#000">HSCs</text>
<text x="57" y="599.8" font-size="10.5" font-style="italic" fill="#111">Emp1<tspan dy="-3.78" font-size="6.3">fl/fl</tspan></text>
<text x="143.6" y="599.6" font-size="10.5" font-style="italic" fill="#111">Emp1-cKO</text>
<defs>
<filter id="emA" x="0" y="0" width="100%" height="100%" color-interpolation-filters="sRGB">
<feTurbulence type="fractalNoise" baseFrequency="0.6" numOctaves="2" seed="4" result="n"/>
<feColorMatrix in="n" type="matrix" values="2.2 0 0 0 -0.6  2.2 0 0 0 -0.6  2.2 0 0 0 -0.6  0 0 0 0 1" result="g"/>
<feGaussianBlur in="SourceGraphic" stdDeviation="0.45" result="s"/>
<feComposite in="s" in2="g" operator="arithmetic" k1="0" k2="1" k3="0.16" k4="-0.08" result="c"/><feGaussianBlur in="c" stdDeviation="0.3"/>
</filter>
<filter id="emB" x="0" y="0" width="100%" height="100%" color-interpolation-filters="sRGB">
<feTurbulence type="fractalNoise" baseFrequency="0.75" numOctaves="2" seed="9" result="n"/>
<feColorMatrix in="n" type="matrix" values="2.0 0 0 0 -0.5  2.0 0 0 0 -0.5  2.0 0 0 0 -0.5  0 0 0 0 1" result="g"/>
<feGaussianBlur in="SourceGraphic" stdDeviation="0.55" result="s"/>
<feComposite in="s" in2="g" operator="arithmetic" k1="0.7" k2="0.65" k3="0.0" k4="0.0" result="c"/><feGaussianBlur in="c" stdDeviation="0.38"/>
</filter>
<clipPath id="c1"><rect x="19.2" y="606.4" width="100.8" height="83"/></clipPath>
<clipPath id="c2"><rect x="128.0" y="606.4" width="101.6" height="83"/></clipPath>
<clipPath id="c3"><rect x="19.2" y="696.0" width="100.8" height="83.4"/></clipPath>
<clipPath id="c4"><rect x="128.2" y="696.0" width="101.6" height="83.4"/></clipPath>
</defs>
<g clip-path="url(#c1)"><g filter="url(#emA)">
<rect x="19.2" y="606.4" width="100.8" height="83" fill="#8d8d8d" />
<path d="M86.38 605.04 L122.47 605.04 L122.47 650.36 L117.44 644.49 L110.72 635.25 L103.17 625.18 L95.61 615.11 L90.24 608.39Z" fill="#e6e6e6" stroke="none" stroke-width="0" />
<path d="M16.71 635.59 C22.17 626.41 43.35 633.41 49.45 635.59 C55.55 637.77 53.11 644.26 53.31 648.68 C53.51 653.1 49.73 657.64 50.62 662.11 C51.52 666.59 56.08 670.79 58.68 675.54 C61.28 680.3 73.23 688.13 66.24 690.65 C59.24 693.17 24.97 699.83 16.71 690.65 C8.46 681.47 11.26 644.77 16.71 635.59Z" fill="#9c9c9c" stroke="none" stroke-width="0" />
<ellipse cx="39.88" cy="647.34" rx="9.74" ry="12.09" fill="#3e3e3e" transform="rotate(5 39.88 647.34)"/>
<ellipse cx="41.06" cy="646.16" rx="4.7" ry="5.71" fill="#565656" transform="rotate(5 41.06 646.16)"/>
<path d="M18.73 634.41 C19.51 633.94 21.25 632.26 23.43 631.56 C25.61 630.86 28.89 630.33 31.82 630.22 C34.76 630.1 38.4 630.19 41.06 630.89 C43.71 631.59 46.15 632.71 47.77 634.41 C49.39 636.12 50.15 638.75 50.79 641.13 C51.44 643.51 51.72 646.16 51.63 648.68 C51.55 651.2 51.02 654.28 50.29 656.24 C49.56 658.19 47.77 659.73 47.27 660.43" fill="none" stroke="#141414" stroke-width="2" stroke-linecap="round" />
<path d="M39.88 669.16 C41.73 667.54 48.05 665.8 50.29 666.81 C52.53 667.82 53.37 672.97 53.31 675.21 C53.25 677.44 49.56 679.07 49.95 680.24 C50.34 681.42 53.79 681.3 55.66 682.26 C57.54 683.21 60.42 684.55 61.2 685.95 C61.98 687.35 62.52 690.01 60.36 690.65 C58.21 691.29 51.07 691.43 48.27 689.81 C45.48 688.19 45.08 683.12 43.57 680.91 C42.06 678.7 39.82 678.51 39.21 676.55 C38.59 674.59 38.03 670.79 39.88 669.16Z" fill="#181818" stroke="none" stroke-width="0" />
<path d="M24.77 666.81 C25.95 665.75 32.44 665.36 33.84 666.14 C35.24 666.92 34.34 670.45 33.17 671.51 C31.99 672.58 28.19 673.3 26.79 672.52 C25.39 671.74 23.6 667.88 24.77 666.81Z" fill="#1c1c1c" stroke="none" stroke-width="0" />
<path d="M34.34 676.38 C35.07 675.82 38.23 676.38 38.87 677.22 C39.52 678.06 38.93 680.86 38.2 681.42 C37.47 681.98 35.15 681.42 34.51 680.58 C33.87 679.74 33.61 676.94 34.34 676.38Z" fill="#1c1c1c" stroke="none" stroke-width="0" />
<path d="M20.07 672.18 C20.77 671.71 23.71 672.63 24.27 673.53 C24.83 674.42 24.13 677.08 23.43 677.56 C22.73 678.03 20.63 677.28 20.07 676.38 C19.51 675.49 19.37 672.66 20.07 672.18Z" fill="#222" stroke="none" stroke-width="0" />
<path d="M27.63 637.77 C28.1 636.76 30.51 636.23 30.98 637.27 C31.46 638.3 30.96 642.97 30.48 643.98 C30 644.99 28.61 644.35 28.13 643.31 C27.65 642.28 27.15 638.78 27.63 637.77Z" fill="#222" stroke="none" stroke-width="0" />
<ellipse cx="33.5" cy="623.5" rx="3.36" ry="3.36" fill="#747474"/>
<ellipse cx="72.95" cy="646.16" rx="3.36" ry="3.19" fill="#7a7a7a"/>
<ellipse cx="89.74" cy="646.16" rx="1.85" ry="5.04" fill="#6a6a6a"/>
<ellipse cx="82.18" cy="650.36" rx="1.68" ry="1.85" fill="#5e5e5e"/>
<ellipse cx="95.95" cy="641.13" rx="1.51" ry="3.02" fill="#686868"/>
<ellipse cx="101.49" cy="631.9" rx="2.01" ry="2.35" fill="#6e6e6e"/>
<ellipse cx="110.72" cy="642.3" rx="1.85" ry="3.69" fill="#6e6e6e"/>
<ellipse cx="69.59" cy="678.06" rx="2.35" ry="2.35" fill="#6a6a6a"/>
<ellipse cx="91.42" cy="680.24" rx="3.69" ry="3.36" fill="#707070"/>
<ellipse cx="112.74" cy="675.54" rx="1.68" ry="3.69" fill="#6c6c6c"/>
<ellipse cx="85.54" cy="659.59" rx="3.02" ry="2.01" fill="#b0b0b0"/>
<ellipse cx="76.31" cy="626.86" rx="1.34" ry="1.34" fill="#a0a0a0"/>
<ellipse cx="57" cy="662.11" rx="3.69" ry="3.69" fill="#7c7c7c"/>
<ellipse cx="100.65" cy="663.79" rx="1.68" ry="2.69" fill="#6e6e6e"/>
<ellipse cx="63.72" cy="621.82" rx="1.68" ry="1.34" fill="#787878"/>
<ellipse cx="80.51" cy="638.61" rx="1.34" ry="1.34" fill="#a4a4a4"/>
<ellipse cx="65.4" cy="650.36" rx="1.68" ry="1.18" fill="#a0a0a0"/>
<ellipse cx="104.01" cy="653.72" rx="1.51" ry="1.51" fill="#9c9c9c"/>
<ellipse cx="72.95" cy="646.16" rx="3.36" ry="3.19" fill="none" stroke="#b0b0b0" stroke-width="0.5"/>
</g></g>
<rect x="19.2" y="606.4" width="100.8" height="83" fill="none" stroke="#111" stroke-width="1.2" />
<g clip-path="url(#c2)"><g filter="url(#emA)">
<rect x="128" y="606.4" width="101.6" height="83" fill="#dedede" />
<path d="M125.36 603.36 C139.77 594.82 197.12 602.24 211.81 603.36 C226.5 604.48 212.65 607.55 213.49 610.07 C214.33 612.59 215.59 615.11 216.85 618.47 C218.11 621.82 220.4 626.02 221.04 630.22 C221.69 634.41 220.93 639.17 220.71 643.65 C220.48 648.12 220.2 653.16 219.7 657.08 C219.2 660.99 218.64 663.79 217.69 667.15 C216.73 670.51 215.34 674.14 213.99 677.22 C212.65 680.3 211.11 683.1 209.63 685.61 C208.15 688.13 213.41 691.21 205.1 692.33 C196.79 693.45 168.02 693.45 159.77 692.33 C151.52 691.21 157.67 688.13 155.57 685.61 C153.48 683.1 149.98 680.3 147.18 677.22 C144.38 674.14 141.25 670.37 138.79 667.15 C136.32 663.93 134.65 660.01 132.41 657.92 C130.17 655.82 126.53 663.65 125.36 654.56 C124.18 645.46 110.95 611.89 125.36 603.36Z" fill="#7e7e7e" stroke="none" stroke-width="0" />
<path d="M128.38 610.07 C131.46 604 139.85 606.99 147.18 606.38 C154.51 605.76 166.26 604.64 172.36 606.38 C178.46 608.11 180.98 612.81 183.78 616.79 C186.57 620.76 188.36 625.8 189.15 630.22 C189.93 634.64 190.3 639.45 188.48 643.31 C186.66 647.17 181.15 650.03 178.24 653.38 C175.33 656.74 174.66 661.1 171.02 663.45 C167.38 665.8 161.65 668.69 156.41 667.48 C151.18 666.28 144.24 660.35 139.63 656.24 C135.01 652.12 130.59 650.5 128.71 642.81 C126.84 635.11 125.3 616.14 128.38 610.07Z" fill="#737373" stroke="none" stroke-width="0" />
<path d="M128.38 628.54 C128.88 625.46 130.95 626.02 131.74 626.86 C132.52 627.7 132.69 631.06 133.08 633.57 C133.47 636.09 134.2 639.59 134.09 641.97 C133.97 644.35 133.3 647.28 132.41 647.84 C131.51 648.4 129.39 648.54 128.71 645.32 C128.04 642.11 127.88 631.62 128.38 628.54Z" fill="#1a1a1a" stroke="none" stroke-width="0" />
<path d="M137.95 648.68 C138.51 646.86 143.26 646.72 145.5 647 C147.74 647.28 149.56 648.68 151.38 650.36 C153.2 652.04 154.73 654.84 156.41 657.08 C158.09 659.31 161.45 662.06 161.45 663.79 C161.45 665.53 158.51 667.48 156.41 667.48 C154.31 667.48 151.24 665.39 148.86 663.79 C146.48 662.2 143.96 660.43 142.14 657.92 C140.33 655.4 137.39 650.5 137.95 648.68Z" fill="#1a1a1a" stroke="none" stroke-width="0" />
<path d="M155.57 639.45 C156.41 637.63 160.75 637.07 162.29 637.77 C163.83 638.47 164.81 641.55 164.81 643.65 C164.81 645.74 163.55 649.52 162.29 650.36 C161.03 651.2 158.37 650.5 157.25 648.68 C156.13 646.86 154.73 641.27 155.57 639.45Z" fill="#1a1a1a" stroke="none" stroke-width="0" />
<path d="M164.81 625.18 C165.51 623.87 170.12 623.5 171.52 624.34 C172.92 625.18 173.9 628.9 173.2 630.22 C172.5 631.53 168.72 633.07 167.32 632.23 C165.93 631.39 164.11 626.5 164.81 625.18Z" fill="#1a1a1a" stroke="none" stroke-width="0" />
<path d="M169.84 606.38 C171.52 605.2 180.19 604.64 182.43 606.38 C184.67 608.11 184.11 614.72 183.27 616.79 C182.43 618.86 179.22 619.36 177.4 618.8 C175.58 618.24 173.62 615.5 172.36 613.43 C171.1 611.36 168.16 607.55 169.84 606.38Z" fill="#1a1a1a" stroke="none" stroke-width="0" />
<path d="M185.45 621.82 C185.96 620.98 188.2 625.46 188.81 628.54 C189.43 631.62 189.51 637.71 189.15 640.29 C188.78 642.86 187.19 645.1 186.63 643.98 C186.07 642.86 185.99 637.27 185.79 633.57 C185.59 629.88 184.95 622.66 185.45 621.82Z" fill="#1a1a1a" stroke="none" stroke-width="0" />
<path d="M143.82 623.5 C144.52 622.8 148.08 622.1 148.86 622.66 C149.64 623.22 149.22 626.16 148.52 626.86 C147.82 627.56 145.45 627.42 144.66 626.86 C143.88 626.3 143.12 624.2 143.82 623.5Z" fill="#1a1a1a" stroke="none" stroke-width="0" />
<path d="M132.07 610.07 C133 608.67 137.11 607.41 137.95 608.39 C138.79 609.37 138.03 614.55 137.11 615.95 C136.18 617.35 133.25 617.77 132.41 616.79 C131.57 615.81 131.15 611.47 132.07 610.07Z" fill="#1a1a1a" stroke="none" stroke-width="0" />
<path d="M172.36 648.68 C173.48 648.12 176.84 649.24 177.4 650.36 C177.96 651.48 176.67 654 175.72 655.4 C174.77 656.8 172.53 659.03 171.69 658.75 C170.85 658.47 170.57 655.4 170.68 653.72 C170.79 652.04 171.24 649.24 172.36 648.68Z" fill="#1a1a1a" stroke="none" stroke-width="0" />
<ellipse cx="166.65" cy="647.34" rx="8.39" ry="7.39" fill="#505050" transform="rotate(35 166.65 647.34)"/>
<ellipse cx="166.65" cy="647.34" rx="8.39" ry="7.39" fill="none" stroke="#2a2a2a" stroke-width="0.5" transform="rotate(35 166.65 647.34)"/>
<path d="M185.79 608.39 C186.91 611.19 190.83 619.58 192.51 625.18 C194.18 630.78 195.86 637.21 195.86 641.97 C195.86 646.72 193.06 651.76 192.51 653.72" fill="none" stroke="#a6a6a6" stroke-width="0.6" stroke-linecap="round" />
<path d="M195.86 610.07 C196.7 612.87 199.5 621.26 200.9 626.86 C202.3 632.45 203.98 638.89 204.26 643.65 C204.54 648.4 202.86 653.44 202.58 655.4" fill="none" stroke="#a6a6a6" stroke-width="0.6" stroke-linecap="round" />
<path d="M209.29 620.14 C209.99 622.94 213.07 631.06 213.49 636.93 C213.91 642.81 212.09 652.32 211.81 655.4" fill="none" stroke="#a6a6a6" stroke-width="0.6" stroke-linecap="round" />
<path d="M177.4 667.15 C179.36 666.31 185.23 662.53 189.15 662.11 C193.06 661.69 198.94 664.21 200.9 664.63" fill="none" stroke="#a6a6a6" stroke-width="0.6" stroke-linecap="round" />
<path d="M192.51 670.51 C193.9 671.06 198.38 674.14 200.9 673.86 C203.42 673.58 206.49 669.67 207.61 668.83" fill="none" stroke="#a6a6a6" stroke-width="0.6" stroke-linecap="round" />
<path d="M172.36 678.9 C174.6 679.74 181.31 683.66 185.79 683.93 C190.27 684.21 196.98 681.14 199.22 680.58" fill="none" stroke="#a6a6a6" stroke-width="0.6" stroke-linecap="round" />
<ellipse cx="224.4" cy="648.68" rx="1.01" ry="0.84" fill="#999"/>
<ellipse cx="225.24" cy="640.29" rx="0.67" ry="0.67" fill="#aaa"/>
<ellipse cx="174.04" cy="664.29" rx="1.68" ry="1.34" fill="#d0d0d0"/>
<ellipse cx="187.47" cy="663.79" rx="2.01" ry="1.18" fill="#bcbcbc"/>
<ellipse cx="207.61" cy="657.58" rx="1.34" ry="0.84" fill="#d0d0d0"/>
<ellipse cx="144.66" cy="678.06" rx="1.01" ry="1.34" fill="#aaa"/>
</g></g>
<rect x="128" y="606.4" width="101.6" height="83" fill="none" stroke="#111" stroke-width="1.2" />
<g clip-path="url(#c3)"><g filter="url(#emB)">
<rect x="19.2" y="696" width="100.8" height="83.4" fill="#8c8c8c" />
<path d="M20.07 746.24 C22.59 745.26 30.42 741.9 35.18 740.36 C39.94 738.82 44.13 738.4 48.61 737 C53.09 735.6 56.72 733.23 62.04 731.97 C67.36 730.71 74.63 730.43 80.51 729.45 C86.38 728.47 91.14 727.63 97.29 726.09 C103.45 724.55 114.08 721.2 117.44 720.22" fill="none" stroke="#acacac" stroke-width="2.4" stroke-linecap="round" />
<path d="M20.07 754.63 C22.03 753.51 27.63 749.68 31.82 747.92 C36.02 746.15 43.01 744.7 45.25 744.05" fill="none" stroke="#acacac" stroke-width="1.95" stroke-linecap="round" />
<path d="M20.07 731.97 C22.03 731.69 27.91 729.95 31.82 730.29 C35.74 730.62 41.62 733.37 43.57 733.98" fill="none" stroke="#acacac" stroke-width="1.8" stroke-linecap="round" />
<path d="M80.51 740.36 C82.18 741.48 86.66 745.4 90.58 747.08 C94.49 748.75 101.77 749.87 104.01 750.43" fill="none" stroke="#acacac" stroke-width="1.5" stroke-linecap="round" />
<ellipse cx="58.68" cy="752.45" rx="11.75" ry="11.08" fill="#707070" stroke="#4c4c4c" stroke-width="0.8"/>
<ellipse cx="112.74" cy="762.52" rx="6.38" ry="9.4" fill="#7c7c7c" stroke="#5a5a5a" stroke-width="0.7"/>
<ellipse cx="112.4" cy="726.09" rx="5.04" ry="3.69" fill="#848484"/>
</g>
<g filter="url(#sb2)">
<path d="M26.79 693.36 L28.47 698.73 L32.66 703.09 L43.57 707.79 L53.65 712.83 L58.68 715.01 L62.71 713.5 L63.89 706.79 L67.08 703.43 L70.27 706.79 L70.94 712.49 L74.63 712.66 L76.14 705.11 L79.16 701.42 L82.35 705.11 L83.19 710.98 L88.9 710.14 L100.65 707.63 L108.2 705.11 L110.22 700.07 L109.38 693.36Z" fill="#e6e6e6" stroke="none" stroke-width="0" />
<ellipse cx="102.83" cy="700.07" rx="2.69" ry="2.52" fill="#8c8c8c"/>
<ellipse cx="102.83" cy="700.07" rx="1.34" ry="1.18" fill="#b0b0b0"/>
<ellipse cx="52.81" cy="781.99" rx="34.75" ry="15.44" fill="#121212"/>
<ellipse cx="65.4" cy="778.64" rx="6.71" ry="2.35" fill="#4a4a4a"/>
</g></g>
<path d="M0 0 L-10 -5.2 L-7.6 -1.6 L-15 -1.9 L-15 1.9 L-7.6 1.6 L-10 5.2 Z" fill="#fff" stroke="#fff" stroke-width="0.6" stroke-linejoin="round" transform="translate(35.68 745.9) rotate(-122) scale(0.91)"/>
<path d="M0 0 L-10 -5.2 L-7.6 -1.6 L-15 -1.9 L-15 1.9 L-7.6 1.6 L-10 5.2 Z" fill="#fff" stroke="#fff" stroke-width="0.6" stroke-linejoin="round" transform="translate(96.62 728.61) rotate(-120) scale(0.91)"/>
<rect x="19.2" y="696" width="100.8" height="83.4" fill="none" stroke="#111" stroke-width="1.2" />
<g clip-path="url(#c4)"><g filter="url(#emB)">
<rect x="128.2" y="696" width="101.6" height="83.4" fill="#727272" />
<path d="M153.06 695.04 C153.48 697.83 154.65 706.23 155.57 711.82 C156.5 717.42 158.88 724.13 158.6 728.61 C158.32 733.09 155.8 734.49 153.9 738.68 C151.99 742.88 149.7 748.75 147.18 753.79 C144.66 758.83 141.03 764.42 138.79 768.9 C136.55 773.38 134.59 778.69 133.75 780.65" fill="none" stroke="#989898" stroke-width="4.05" stroke-linecap="round" />
<path d="M175.72 695.04 C176.42 697.83 178.57 706.51 179.92 711.82 C181.26 717.14 183.36 721.62 183.78 726.93 C184.2 732.25 183.22 738.4 182.43 743.72 C181.65 749.03 179.64 756.31 179.08 758.83" fill="none" stroke="#989898" stroke-width="4.05" stroke-linecap="round" />
<path d="M213.49 711.82 C212.23 713.78 208.45 719.66 205.93 723.57 C203.42 727.49 200.2 731.83 198.38 735.32 C196.56 738.82 195.58 743.02 195.02 744.56" fill="none" stroke="#989898" stroke-width="2.97" stroke-linecap="round" />
<path d="M219.03 723.57 C218.41 725.81 216.26 732.81 215.34 737 C214.41 741.2 213.8 746.8 213.49 748.75" fill="none" stroke="#989898" stroke-width="2.56" stroke-linecap="round" />
<path d="M141.81 763.86 C144.1 762.63 151.55 758.16 155.57 756.48 C159.6 754.8 164.25 754.24 165.98 753.79" fill="none" stroke="#989898" stroke-width="3.24" stroke-linecap="round" />
<path d="M158.93 763.86 C159.77 765.04 160.89 769.23 163.97 770.91 C167.05 772.59 175.16 773.43 177.4 773.93" fill="none" stroke="#989898" stroke-width="2.43" stroke-linecap="round" />
<path d="M198.38 753.79 C198.52 755.75 199.22 761.2 199.22 765.54 C199.22 769.88 198.52 777.43 198.38 779.81" fill="none" stroke="#989898" stroke-width="2.43" stroke-linecap="round" />
<path d="M132.07 699.74 C133.61 701.19 139.18 704.49 141.31 708.47 C143.43 712.44 144.52 718.54 144.83 723.57 C145.14 728.61 144.66 734.49 143.15 738.68 C141.64 742.88 138.12 746.18 135.77 748.75 C133.42 751.33 130.17 753.23 129.05 754.13" fill="none" stroke="#989898" stroke-width="3.24" stroke-linecap="round" />
<path d="M209.29 757.15 C210.69 756.73 214.61 754.63 217.69 754.63 C220.76 754.63 226.08 756.73 227.76 757.15" fill="none" stroke="#989898" stroke-width="2.43" stroke-linecap="round" />
<path d="M179.08 768.9 C180.75 770.02 186.35 773.66 189.15 775.61 C191.95 777.57 194.74 779.81 195.86 780.65" fill="none" stroke="#989898" stroke-width="2.03" stroke-linecap="round" />
<path d="M222.72 731.97 C223.51 734.21 226.72 740.64 227.42 745.4 C228.12 750.15 227 757.99 226.92 760.51" fill="none" stroke="#989898" stroke-width="2.7" stroke-linecap="round" />
</g>
<g filter="url(#sb2)">
<path d="M125.36 707.63 C127.04 701.14 133.14 706.87 135.43 708.13 C137.72 709.39 138.34 711.77 139.12 715.18 C139.91 718.59 140.35 724.55 140.13 728.61 C139.91 732.67 139.07 736.72 137.78 739.52 C136.49 742.32 134.48 744.14 132.41 745.4 C130.34 746.66 126.53 753.37 125.36 747.08 C124.18 740.78 123.68 714.12 125.36 707.63Z" fill="#0c0c0c" stroke="none" stroke-width="0" />
<path d="M214.66 693.36 L232.79 693.36 L232.79 733.98 L229.44 728.27 L226.41 721.06 L222.72 713.5 L218.02 704.27Z" fill="#fafafa" stroke="none" stroke-width="0" />
</g></g>
<path d="M0 0 L-10 -5.2 L-7.6 -1.6 L-15 -1.9 L-15 1.9 L-7.6 1.6 L-10 5.2 Z" fill="#fff" stroke="#fff" stroke-width="0.6" stroke-linejoin="round" transform="translate(158.93 738.68) rotate(-130) scale(0.91)"/>
<path d="M0 0 L-10 -5.2 L-7.6 -1.6 L-15 -1.9 L-15 1.9 L-7.6 1.6 L-10 5.2 Z" fill="#fff" stroke="#fff" stroke-width="0.6" stroke-linejoin="round" transform="translate(186.8 747.58) rotate(-130) scale(0.91)"/>
<rect x="128.2" y="696" width="101.6" height="83.4" fill="none" stroke="#111" stroke-width="1.2" />
<text x="119.4" y="617.2" font-size="10.5" text-anchor="end" fill="#000">1.0 µm</text>
<line x1="96.4" y1="621.5" x2="112.6" y2="621.5" stroke="#000" stroke-width="1.8" />
<text x="226.8" y="617.6" font-size="10.5" text-anchor="end" fill="#000">1.0 µm</text>
<line x1="205.4" y1="621.7" x2="220.8" y2="621.7" stroke="#000" stroke-width="1.8" />
<rect x="22.4" y="608.2" width="32.2" height="27.2" fill="none" stroke="#f0922e" stroke-width="1" stroke-dasharray="5 1.6"/>
<line x1="22.4" y1="635.4" x2="19.4" y2="696" stroke="#f0922e" stroke-width="0.95" stroke-dasharray="9 2" />
<line x1="54.6" y1="635.4" x2="119.8" y2="696" stroke="#f0922e" stroke-width="0.95" stroke-dasharray="9 2" />
<rect x="187.5" y="630.5" width="32.4" height="27.2" fill="none" stroke="#f0922e" stroke-width="1" stroke-dasharray="5 1.6"/>
<line x1="187.5" y1="657.7" x2="128.4" y2="696" stroke="#f0922e" stroke-width="0.95" stroke-dasharray="9 2" />
<line x1="219.9" y1="657.7" x2="229.6" y2="696" stroke="#f0922e" stroke-width="0.95" stroke-dasharray="9 2" />
<text x="0.8" y="748" font-size="4.2" fill="#999">△</text>
<line x1="284.5" y1="615.5" x2="297" y2="615.5" stroke="#000" stroke-width="0.9" />
<text x="301.3" y="619.6" font-size="10.5" fill="#111">FMO</text>
<line x1="284.5" y1="626.5" x2="297" y2="626.5" stroke="#2400ff" stroke-width="0.9" />
<text x="301.3" y="630.8" font-size="10.5" fill="#111">shCtrl</text>
<line x1="284.5" y1="638.4" x2="297" y2="638.4" stroke="#ff2010" stroke-width="0.9" />
<text x="301.3" y="642.1" font-size="10.5" fill="#111">shEMP1-1</text>
<line x1="284.5" y1="650.9" x2="297" y2="650.9" stroke="#f0a848" stroke-width="0.9" />
<text x="301.3" y="653.6" font-size="10.5" fill="#111">shEMP1-2</text>
<text x="325" y="676.4" font-size="10.5" text-anchor="middle" fill="#111">Human cord blood</text>
<text x="326.3" y="688.9" font-size="10.5" text-anchor="middle" fill="#111">CD34<tspan dy="-3.6" font-size="7">+</tspan><tspan dy="3.6"> cells</tspan></text>
<rect x="285.2" y="691.8" width="78.4" height="77.8" fill="#fff" stroke="#000" stroke-width="0.95" />
<line x1="285.8" y1="769.6" x2="285.8" y2="771.6" stroke="#000" stroke-width="0.5" />
<line x1="290.05" y1="769.6" x2="290.05" y2="770.6" stroke="#000" stroke-width="0.5" />
<line x1="292.54" y1="769.6" x2="292.54" y2="770.6" stroke="#000" stroke-width="0.5" />
<line x1="294.3" y1="769.6" x2="294.3" y2="770.6" stroke="#000" stroke-width="0.5" />
<line x1="295.67" y1="769.6" x2="295.67" y2="770.6" stroke="#000" stroke-width="0.5" />
<line x1="296.79" y1="769.6" x2="296.79" y2="770.6" stroke="#000" stroke-width="0.5" />
<line x1="297.74" y1="769.6" x2="297.74" y2="770.6" stroke="#000" stroke-width="0.5" />
<line x1="298.56" y1="769.6" x2="298.56" y2="770.6" stroke="#000" stroke-width="0.5" />
<line x1="299.28" y1="769.6" x2="299.28" y2="770.6" stroke="#000" stroke-width="0.5" />
<line x1="299.93" y1="769.6" x2="299.93" y2="771.6" stroke="#000" stroke-width="0.5" />
<line x1="304.18" y1="769.6" x2="304.18" y2="770.6" stroke="#000" stroke-width="0.5" />
<line x1="306.67" y1="769.6" x2="306.67" y2="770.6" stroke="#000" stroke-width="0.5" />
<line x1="308.43" y1="769.6" x2="308.43" y2="770.6" stroke="#000" stroke-width="0.5" />
<line x1="309.8" y1="769.6" x2="309.8" y2="770.6" stroke="#000" stroke-width="0.5" />
<line x1="310.92" y1="769.6" x2="310.92" y2="770.6" stroke="#000" stroke-width="0.5" />
<line x1="311.86" y1="769.6" x2="311.86" y2="770.6" stroke="#000" stroke-width="0.5" />
<line x1="312.68" y1="769.6" x2="312.68" y2="770.6" stroke="#000" stroke-width="0.5" />
<line x1="313.41" y1="769.6" x2="313.41" y2="770.6" stroke="#000" stroke-width="0.5" />
<line x1="314.05" y1="769.6" x2="314.05" y2="771.6" stroke="#000" stroke-width="0.5" />
<line x1="318.3" y1="769.6" x2="318.3" y2="770.6" stroke="#000" stroke-width="0.5" />
<line x1="320.79" y1="769.6" x2="320.79" y2="770.6" stroke="#000" stroke-width="0.5" />
<line x1="322.56" y1="769.6" x2="322.56" y2="770.6" stroke="#000" stroke-width="0.5" />
<line x1="323.93" y1="769.6" x2="323.93" y2="770.6" stroke="#000" stroke-width="0.5" />
<line x1="325.04" y1="769.6" x2="325.04" y2="770.6" stroke="#000" stroke-width="0.5" />
<line x1="325.99" y1="769.6" x2="325.99" y2="770.6" stroke="#000" stroke-width="0.5" />
<line x1="326.81" y1="769.6" x2="326.81" y2="770.6" stroke="#000" stroke-width="0.5" />
<line x1="327.53" y1="769.6" x2="327.53" y2="770.6" stroke="#000" stroke-width="0.5" />
<line x1="328.18" y1="769.6" x2="328.18" y2="771.6" stroke="#000" stroke-width="0.5" />
<line x1="332.43" y1="769.6" x2="332.43" y2="770.6" stroke="#000" stroke-width="0.5" />
<line x1="334.92" y1="769.6" x2="334.92" y2="770.6" stroke="#000" stroke-width="0.5" />
<line x1="336.68" y1="769.6" x2="336.68" y2="770.6" stroke="#000" stroke-width="0.5" />
<line x1="338.05" y1="769.6" x2="338.05" y2="770.6" stroke="#000" stroke-width="0.5" />
<line x1="339.17" y1="769.6" x2="339.17" y2="770.6" stroke="#000" stroke-width="0.5" />
<line x1="340.12" y1="769.6" x2="340.12" y2="770.6" stroke="#000" stroke-width="0.5" />
<line x1="340.94" y1="769.6" x2="340.94" y2="770.6" stroke="#000" stroke-width="0.5" />
<line x1="341.66" y1="769.6" x2="341.66" y2="770.6" stroke="#000" stroke-width="0.5" />
<line x1="342.3" y1="769.6" x2="342.3" y2="771.6" stroke="#000" stroke-width="0.5" />
<line x1="346.56" y1="769.6" x2="346.56" y2="770.6" stroke="#000" stroke-width="0.5" />
<line x1="349.04" y1="769.6" x2="349.04" y2="770.6" stroke="#000" stroke-width="0.5" />
<line x1="350.81" y1="769.6" x2="350.81" y2="770.6" stroke="#000" stroke-width="0.5" />
<line x1="352.18" y1="769.6" x2="352.18" y2="770.6" stroke="#000" stroke-width="0.5" />
<line x1="353.3" y1="769.6" x2="353.3" y2="770.6" stroke="#000" stroke-width="0.5" />
<line x1="354.24" y1="769.6" x2="354.24" y2="770.6" stroke="#000" stroke-width="0.5" />
<line x1="355.06" y1="769.6" x2="355.06" y2="770.6" stroke="#000" stroke-width="0.5" />
<line x1="355.78" y1="769.6" x2="355.78" y2="770.6" stroke="#000" stroke-width="0.5" />
<line x1="356.43" y1="769.6" x2="356.43" y2="771.6" stroke="#000" stroke-width="0.5" />
<line x1="360.68" y1="769.6" x2="360.68" y2="770.6" stroke="#000" stroke-width="0.5" />
<line x1="285.2" y1="764.82" x2="286.2" y2="764.82" stroke="#000" stroke-width="0.4" />
<line x1="285.2" y1="760.04" x2="286.2" y2="760.04" stroke="#000" stroke-width="0.4" />
<line x1="285.2" y1="755.26" x2="286.2" y2="755.26" stroke="#000" stroke-width="0.4" />
<line x1="285.2" y1="750.48" x2="286.2" y2="750.48" stroke="#000" stroke-width="0.4" />
<line x1="285.2" y1="745.7" x2="287.8" y2="745.7" stroke="#000" stroke-width="0.7" />
<line x1="285.2" y1="740.92" x2="286.2" y2="740.92" stroke="#000" stroke-width="0.4" />
<line x1="285.2" y1="736.14" x2="286.2" y2="736.14" stroke="#000" stroke-width="0.4" />
<line x1="285.2" y1="731.36" x2="286.2" y2="731.36" stroke="#000" stroke-width="0.4" />
<line x1="285.2" y1="726.58" x2="286.2" y2="726.58" stroke="#000" stroke-width="0.4" />
<line x1="285.2" y1="721.8" x2="287.8" y2="721.8" stroke="#000" stroke-width="0.7" />
<line x1="285.2" y1="717.02" x2="286.2" y2="717.02" stroke="#000" stroke-width="0.4" />
<line x1="285.2" y1="712.24" x2="286.2" y2="712.24" stroke="#000" stroke-width="0.4" />
<line x1="285.2" y1="707.46" x2="286.2" y2="707.46" stroke="#000" stroke-width="0.4" />
<line x1="285.2" y1="702.68" x2="286.2" y2="702.68" stroke="#000" stroke-width="0.4" />
<line x1="285.2" y1="697.9" x2="287.8" y2="697.9" stroke="#000" stroke-width="0.7" />
<line x1="285.2" y1="693.12" x2="286.2" y2="693.12" stroke="#000" stroke-width="0.4" />
<path d="M298 769 L299.5 767 L300.75 757 L302 732 L303.25 709.5 L304.5 700 L305.5 707 L306.75 722 L308 730.75 L309.5 734 L311.25 742 L313.25 747 L315 752.5 L317.5 758.25 L320 762.5 L323 765.75 L326.25 767.75 L329 768 L330.5 769" fill="none" stroke="#000" stroke-width="1" stroke-linejoin="round"/>
<path d="M314 769 L316.25 767 L318.75 759.5 L321.25 744.5 L323.75 724.5 L325.75 709.5 L327 701.5 L328 699 L329.25 703.25 L330.75 712 L332.5 722 L334.5 732 L337 744.5 L339.5 753.25 L342.5 759.5 L346.25 764.5 L350 768 L352 769" fill="none" stroke="#2400ff" stroke-width="1" stroke-linejoin="round"/>
<path d="M326.5 769 L328 764.5 L329.25 747 L330.75 727 L332.5 709.5 L334 700.75 L335 699 L336.25 702 L338 709.5 L340 714.5 L342 720 L343.5 729.5 L345.5 739.5 L347.5 745.75 L349.5 753.25 L352 760 L354.5 765 L357.5 769" fill="none" stroke="#ff2010" stroke-width="1" stroke-linejoin="round"/>
<path d="M329.5 769 L331 764.5 L332.5 752 L334 737 L335.5 717 L337 702 L338 700 L338.75 698 L339.5 702 L341 707 L342.5 717 L344 719.5 L345 732 L346 740.75 L347.5 743.25 L349 753.25 L350.5 758.25 L353 765 L356 769" fill="none" stroke="#f0a848" stroke-width="1" stroke-linejoin="round"/>
<text x="280.6" y="753.4" font-size="10.5" fill="#111" transform="rotate(-90 280.6 753.4)">% of Max</text>
<path d="M278 758.8 L278 777 L298.2 777" fill="none" stroke="#000" stroke-width="0.9" />
<path d="M278 756.8 l-2 4.2 l4 0 z" fill="#000" stroke="none" stroke-width="0" />
<path d="M300.2 777 l-4.2 -2 l0 4 z" fill="#000" stroke="none" stroke-width="0" />
<text x="301.2" y="781.4" font-size="10.5" fill="#111">Proteostat</text>
<rect x="445" y="622.7" width="7.4" height="7.4" fill="#2400ff" />
<text x="457" y="629.6" font-size="10.6" fill="#111">shCtrl</text>
<rect x="445" y="633.4" width="7.4" height="7.4" fill="#ff2010" />
<text x="457" y="640.8" font-size="10.6" fill="#111">shEMP1-1</text>
<rect x="445" y="644.1" width="7.4" height="7.4" fill="#e8ae4a" />
<text x="457" y="652" font-size="10.6" fill="#111">shEMP1-2</text>
<text x="406.2" y="761" font-size="10.5" fill="#111" transform="rotate(-90 406.2 761)">Proteostat MFI</text>
<text x="420" y="773.4" font-size="10.5" fill="#111" transform="rotate(-90 420 773.4)">(normalized to shCtrl)</text>
<rect x="453" y="724.3" width="15" height="45.6" fill="#2400ff" />
<rect x="475.5" y="689.64" width="15" height="80.26" fill="#ff2010" />
<rect x="498" y="686" width="15" height="83.9" fill="#e8ae4a" />
<line x1="460.5" y1="722.25" x2="460.5" y2="726.35" stroke="#000" stroke-width="0.95" />
<line x1="456.3" y1="722.25" x2="464.7" y2="722.25" stroke="#000" stroke-width="0.95" />
<line x1="456.3" y1="726.35" x2="464.7" y2="726.35" stroke="#000" stroke-width="0.95" />
<circle cx="460.5" cy="721.11" r="1.7" fill="#000" />
<circle cx="455.1" cy="725.67" r="1.7" fill="#000" />
<circle cx="460.5" cy="724.98" r="1.7" fill="#000" />
<circle cx="466.1" cy="725.67" r="1.7" fill="#000" />
<line x1="483" y1="686.45" x2="483" y2="692.84" stroke="#000" stroke-width="0.95" />
<line x1="478.8" y1="686.45" x2="487.2" y2="686.45" stroke="#000" stroke-width="0.95" />
<line x1="478.8" y1="692.84" x2="487.2" y2="692.84" stroke="#000" stroke-width="0.95" />
<circle cx="477.4" cy="686.91" r="1.7" fill="#000" />
<circle cx="482.8" cy="694.2" r="1.7" fill="#000" />
<circle cx="483.2" cy="690.56" r="1.7" fill="#000" />
<circle cx="488.6" cy="689.64" r="1.7" fill="#000" />
<line x1="505.5" y1="683.26" x2="505.5" y2="688.73" stroke="#000" stroke-width="0.95" />
<line x1="501.3" y1="683.26" x2="509.7" y2="683.26" stroke="#000" stroke-width="0.95" />
<line x1="501.3" y1="688.73" x2="509.7" y2="688.73" stroke="#000" stroke-width="0.95" />
<circle cx="501.3" cy="685.08" r="1.7" fill="#000" />
<circle cx="506.1" cy="683.26" r="1.7" fill="#000" />
<circle cx="508.7" cy="686" r="1.7" fill="#000" />
<circle cx="505.5" cy="689.64" r="1.7" fill="#000" />
<line x1="445.7" y1="678.12" x2="445.7" y2="770.48" stroke="#000" stroke-width="1.15" />
<line x1="445.12" y1="769.9" x2="520.2" y2="769.9" stroke="#000" stroke-width="1.15" />
<line x1="442" y1="769.9" x2="445.7" y2="769.9" stroke="#000" stroke-width="1.15" />
<text x="440.8" y="773.79" font-size="10.8" text-anchor="end" fill="#111">0.0</text>
<line x1="442" y1="747.1" x2="445.7" y2="747.1" stroke="#000" stroke-width="1.15" />
<text x="440.8" y="750.99" font-size="10.8" text-anchor="end" fill="#111">0.5</text>
<line x1="442" y1="724.3" x2="445.7" y2="724.3" stroke="#000" stroke-width="1.15" />
<text x="440.8" y="728.19" font-size="10.8" text-anchor="end" fill="#111">1.0</text>
<line x1="442" y1="701.5" x2="445.7" y2="701.5" stroke="#000" stroke-width="1.15" />
<text x="440.8" y="705.39" font-size="10.8" text-anchor="end" fill="#111">1.5</text>
<line x1="442" y1="678.7" x2="445.7" y2="678.7" stroke="#000" stroke-width="1.15" />
<text x="440.8" y="682.59" font-size="10.8" text-anchor="end" fill="#111">2.0</text>
<text x="456.3" y="678.8" font-size="7.6" fill="#000"><tspan font-style="italic">P</tspan>&lt;0.0001</text>
<line x1="459.5" y1="681.6" x2="483.8" y2="681.6" stroke="#000" stroke-width="0.9" />
<text x="465.8" y="665.4" font-size="7.6" fill="#000"><tspan font-style="italic">P</tspan>&lt;0.0001</text>
<line x1="458.4" y1="667.6" x2="504.2" y2="667.6" stroke="#000" stroke-width="0.9" />
<rect x="598.3" y="623.2" width="7.4" height="7.4" fill="#2400ff" />
<text x="610.3" y="629.9" font-size="10.6" fill="#111">shCtrl</text>
<rect x="598.3" y="633.8" width="7.4" height="7.4" fill="#ff2010" />
<text x="610.3" y="641.2" font-size="10.6" fill="#111">shEMP1-1</text>
<rect x="598.3" y="644.4" width="7.4" height="7.4" fill="#e8ae4a" />
<text x="610.3" y="652.9" font-size="10.6" fill="#111">shEMP1-2</text>
<text x="577" y="767.6" font-size="10.5" fill="#111" transform="rotate(-90 577 767.6)">Annexin v<tspan dy="-3.6" font-size="7">+</tspan><tspan dy="3.6"> cells(%)</tspan></text>
<rect x="607.8" y="752.99" width="15" height="16.01" fill="#2400ff" />
<rect x="630.3" y="713.18" width="15" height="55.81" fill="#ff2010" />
<rect x="652.8" y="694.43" width="15" height="74.57" fill="#e8ae4a" />
<line x1="615.3" y1="752.07" x2="615.3" y2="753.9" stroke="#000" stroke-width="0.95" />
<line x1="611.1" y1="752.07" x2="619.5" y2="752.07" stroke="#000" stroke-width="0.95" />
<line x1="611.1" y1="753.9" x2="619.5" y2="753.9" stroke="#000" stroke-width="0.95" />
<circle cx="610.1" cy="753.22" r="1.7" fill="#000" />
<circle cx="613.7" cy="751.84" r="1.7" fill="#000" />
<circle cx="617.1" cy="752.99" r="1.7" fill="#000" />
<circle cx="620.9" cy="753.22" r="1.7" fill="#000" />
<line x1="637.8" y1="710.21" x2="637.8" y2="716.16" stroke="#000" stroke-width="0.95" />
<line x1="633.6" y1="710.21" x2="642" y2="710.21" stroke="#000" stroke-width="0.95" />
<line x1="633.6" y1="716.16" x2="642" y2="716.16" stroke="#000" stroke-width="0.95" />
<circle cx="634" cy="716.85" r="1.7" fill="#000" />
<circle cx="637.8" cy="709.52" r="1.7" fill="#000" />
<circle cx="637.6" cy="713.64" r="1.7" fill="#000" />
<circle cx="641.2" cy="715.01" r="1.7" fill="#000" />
<line x1="660.3" y1="692.83" x2="660.3" y2="696.03" stroke="#000" stroke-width="0.95" />
<line x1="656.1" y1="692.83" x2="664.5" y2="692.83" stroke="#000" stroke-width="0.95" />
<line x1="656.1" y1="696.03" x2="664.5" y2="696.03" stroke="#000" stroke-width="0.95" />
<circle cx="654.7" cy="695.8" r="1.7" fill="#000" />
<circle cx="655.7" cy="692.6" r="1.7" fill="#000" />
<circle cx="660.9" cy="694.43" r="1.7" fill="#000" />
<circle cx="665.9" cy="694.88" r="1.7" fill="#000" />
<line x1="600.3" y1="676.92" x2="600.3" y2="769.58" stroke="#000" stroke-width="1.15" />
<line x1="599.72" y1="769" x2="674.2" y2="769" stroke="#000" stroke-width="1.15" />
<line x1="596.6" y1="769" x2="600.3" y2="769" stroke="#000" stroke-width="1.15" />
<text x="595.4" y="772.78" font-size="10.5" text-anchor="end" fill="#111">0</text>
<line x1="596.6" y1="746.12" x2="600.3" y2="746.12" stroke="#000" stroke-width="1.15" />
<text x="595.4" y="749.9" font-size="10.5" text-anchor="end" fill="#111">10</text>
<line x1="596.6" y1="723.25" x2="600.3" y2="723.25" stroke="#000" stroke-width="1.15" />
<text x="595.4" y="727.03" font-size="10.5" text-anchor="end" fill="#111">20</text>
<line x1="596.6" y1="700.38" x2="600.3" y2="700.38" stroke="#000" stroke-width="1.15" />
<text x="595.4" y="704.15" font-size="10.5" text-anchor="end" fill="#111">30</text>
<line x1="596.6" y1="677.5" x2="600.3" y2="677.5" stroke="#000" stroke-width="1.15" />
<text x="595.4" y="681.28" font-size="10.5" text-anchor="end" fill="#111">40</text>
<text x="610.3" y="678.8" font-size="7.6" fill="#000"><tspan font-style="italic">P</tspan>&lt;0.0001</text>
<line x1="614.5" y1="681.3" x2="639" y2="681.3" stroke="#000" stroke-width="0.9" />
<text x="621" y="665.4" font-size="7.6" fill="#000"><tspan font-style="italic">P</tspan>&lt;0.0001</text>
<line x1="614.5" y1="667.8" x2="659.5" y2="667.8" stroke="#000" stroke-width="0.9" />
<text x="637.8" y="782" font-size="10.5" text-anchor="middle" fill="#111">Human cord blood</text>
<text x="638.6" y="794.4" font-size="10.5" text-anchor="middle" fill="#111">CD34<tspan dy="-3.6" font-size="7">+</tspan><tspan dy="3.6"> cells</tspan></text>
</svg>
</body></html>
